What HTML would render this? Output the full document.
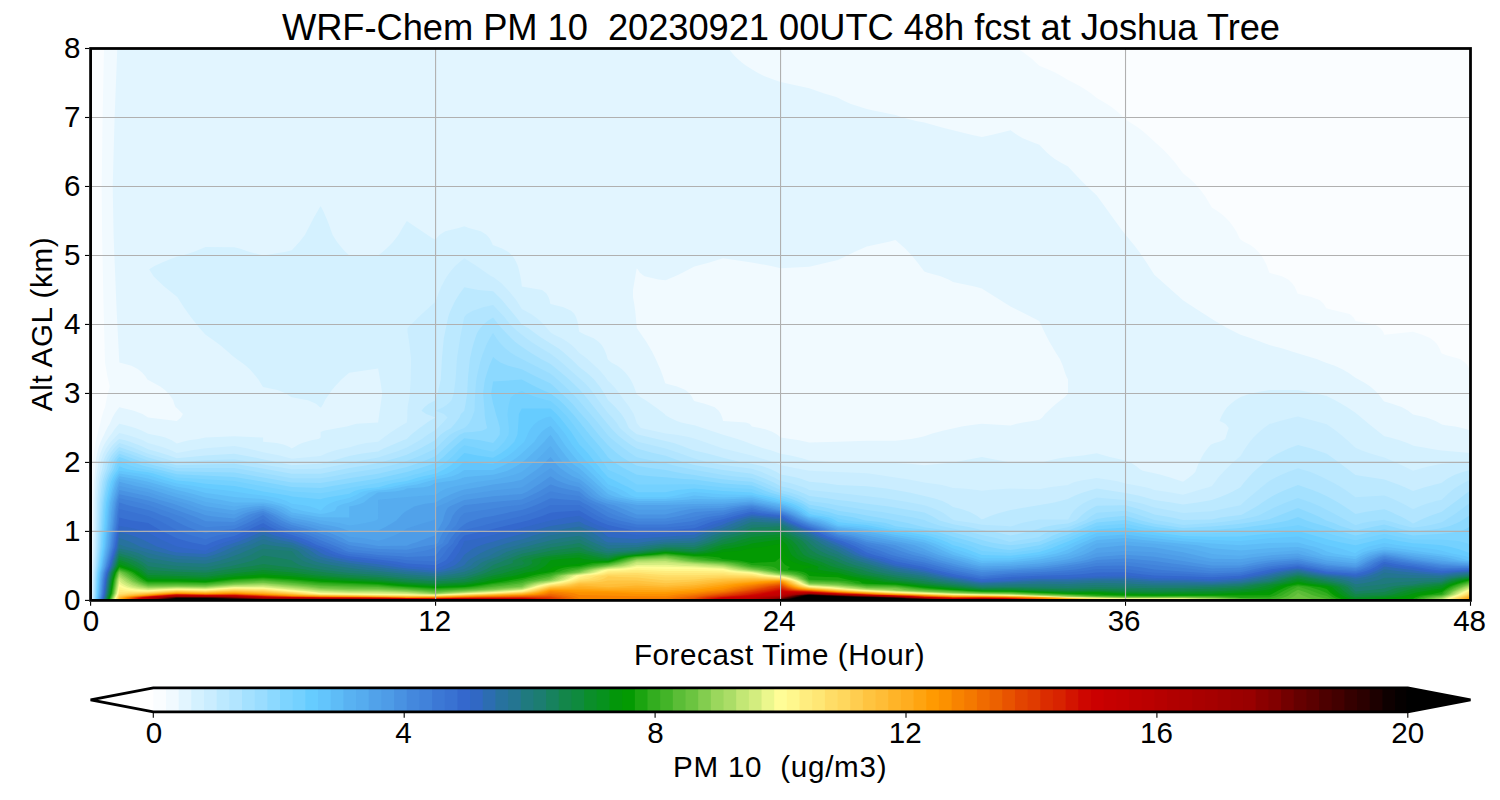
<!DOCTYPE html>
<html><head><meta charset="utf-8"><title>WRF-Chem PM 10</title>
<style>
html,body{margin:0;padding:0;background:#fff;}
body{width:1500px;height:800px;position:relative;overflow:hidden;font-family:"Liberation Sans",sans-serif;color:#000;}
svg{position:absolute;left:0;top:0;}
.t{position:absolute;white-space:nowrap;line-height:1;}
</style></head><body>
<svg width="1500" height="800" viewBox="0 0 1500 800">
<g>
<rect x="90.6" y="48.5" width="1379.9" height="551.9" fill="#fafdff"/>
<path fill="#f1faff" d="M91.1,600.4 1470.5,600.4 1470.5,372.7 1469.4,369.3 1467.7,365.8 1465,362.4 1460,358.9 1447.2,355.5 1441.8,353.5 1440.9,352 1439.5,348.6 1437.6,345.1 1434.9,341.7 1430.5,338.2 1422.4,334.8 1413,331.8 1384.3,334.8 1382.8,331.3 1380.3,327.9 1374.9,324.5 1355.5,321 1353.6,317.6 1349.6,314.1 1326.8,308.6 1325.7,307.2 1323.6,303.8 1319.9,300.3 1311.4,296.9 1298,293.8 1297.6,293.4 1296.2,290 1294.5,286.5 1292,283.1 1288.2,279.6 1281.9,276.2 1269.3,272.7 1266.9,265.8 1265.3,262.4 1263.5,258.9 1261.3,255.5 1258.5,252 1255,248.6 1250.3,245.1 1243.9,241.7 1240.5,239.5 1239.6,238.2 1236.2,231.3 1234.1,227.9 1231.7,224.4 1228.9,221 1225.5,217.5 1221.5,214.1 1216.6,210.6 1211.8,207.6 1205.5,196.8 1200.5,189.9 1197.6,186.5 1194.4,183 1190.7,179.6 1183,173.2 1174.8,162.3 1168.9,155.4 1165.6,152 1162.1,148.5 1154.3,141.6 1147,134.7 1142.9,131.3 1138.4,127.8 1133.4,124.4 1125.5,119.4 1120,114 1116,110.6 1111.5,107.1 1106.5,103.7 1096.8,98 1090.9,93.3 1086.1,89.9 1080.5,86.4 1074,83 1068,80.1 1061.4,76.1 1055.1,72.6 1047.8,69.2 1039.3,65.7 1031.8,58.8 1027.5,55.4 1022.9,51.9 1017.7,48.5 104,48.5 102.6,117.5 101.7,186.5 102.1,234.8 103.5,303.8 105,362.4 107.4,376.2 109.8,386.5 107,396.9 105,407.2 103.6,410.7 101.6,417.6 100.2,423.8 98.9,427.9 95.7,441.7 94.5,448.6 93.4,458.3 92.3,481.7 92,498.3 91.1,600.4Z"/>
<path fill="#e2f5ff" d="M91.6,600.4 1470.5,600.4 1470.5,430.8 1466.6,429.3 1461.9,427.9 1455.3,426.6 1445.2,425.2 1441.8,424.5 1435.7,421 1426.4,417.6 1413,414.4 1412.3,414.1 1408.2,410.7 1402.1,407.2 1392.1,403.8 1384.3,401.5 1383.1,400.3 1380.7,396.9 1377.8,393.4 1374.3,390 1370.2,386.5 1365,383.1 1355.5,377.8 1348.4,372.7 1342.4,369.3 1334.7,365.8 1325.3,362.4 1316.6,358.9 1293.4,352 1282.7,348.6 1269.3,345.1 1260.6,341.7 1251.1,338.2 1240.5,334.8 1227.1,327.9 1215.1,321 1204.1,314.1 1188.2,303.8 1183,300.3 1154.3,274.7 1146.5,262.4 1139.3,252 1134,245.1 1125.5,234.8 1120.3,227.9 1096.8,195.6 1087.2,186.5 1080.2,179.6 1068,166.6 1060.2,162.3 1054.8,158.9 1050.3,155.4 1046.3,152 1039.3,144.7 1030.7,141.6 1022.8,138.2 1016.8,134.7 1010.5,130.3 992.4,134.7 981.8,137.1 971.1,134.7 943,127.8 924.3,122.6 916.1,120.9 902.5,117.5 895.5,115.1 873.3,110.6 866.8,108.9 850.2,103.7 842.7,100.2 838,97.8 835.3,96.8 823.5,93.3 809.3,88.2 780.6,81.9 773.3,79.5 764,76.1 757.1,72.6 746.2,65.7 741.5,62.3 737.6,58.8 734.2,55.4 731.3,51.9 728.8,48.5 117.3,48.5 114.6,117.5 112.7,186.5 113.6,234.8 114.1,248.6 116.5,307.2 119.3,362.4 131.5,365.8 138.1,369.3 142.3,372.7 145.3,376.2 147.4,379.6 160.2,386.5 164.9,390 168.4,393.4 171.1,396.9 173.2,400.3 174.1,403.8 175.7,407.2 176.8,407.9 182.9,414.1 181,417.6 176.8,421 148.1,417.6 142.5,414.1 134,410.7 119.3,407.2 116.6,410.7 114.4,414.1 112.5,417.6 109.8,423.8 108,426.6 106.6,429.3 100.7,441.7 99.1,445.9 96.9,454.1 95.7,461 95.2,469.3 94,481.7 93.3,499.7 92.6,546.6 91.9,572.8 91.6,600.4ZM809.3,442.4 799.1,440.3 790.7,439 780.6,437.6 777.4,434.8 775.3,433.5 772.7,432.1 769.5,430.7 765.4,429.3 759.8,427.9 751.8,426.6 751,425.2 749.5,423.8 745.8,422.4 723.1,421 722.2,417.6 720.8,414.1 718.7,410.7 714.8,407.2 704.7,403.8 694.3,401 693.6,400.3 692,396.9 689.6,393.4 685.5,390 677.1,386.5 665.6,383.6 665.1,383.1 662.9,376.2 660.3,369.3 655.7,358.9 652.3,352 646.3,341.7 636.8,327.9 635.2,310.7 634.2,303.8 633,296.9 633,290 636.5,269.3 636.8,268.6 637.7,269.3 639.9,272.7 644.5,276.2 658.4,279.6 665.6,280.2 675.1,276.2 682.5,272.7 694.3,266.6 709.4,262.4 723.1,258.3 751.8,262.4 770.1,265.8 780.6,268.2 809.3,266.8 827.3,262.4 838,260 854.3,252 866.8,246.4 888.9,241.7 895.5,240 905.1,248.6 911.8,255.5 917.5,262.4 924.3,271.5 927.8,272.7 940.6,276.2 948.6,279.6 953,282 974.4,286.5 981.8,288.5 1010.5,306.5 1039.3,321 1044,331.3 1049.4,341.7 1055.4,352 1059.9,358.9 1062.8,365.8 1065,372.7 1066.4,376.2 1068,379.6 1068,393.4 1064.8,396.9 1056.2,403.8 1052.2,407.2 1045,414.1 1042.4,417.6 1039.3,419.8 1032.5,421 1023,422.4 1016.7,423.8 1010.5,425.6 1006.2,425.2 981.8,423.8 969.9,425.2 961.7,426.6 942.7,430.7 932.2,433.5 924.3,436.2 918.9,437.6 911.2,439 895.5,440.8 866.8,440.8 838,441.7 809.3,442.4Z"/>
<path fill="#d4f1ff" d="M92,600.4 1470.5,600.4 1470.5,452.9 1441.8,450.5 1438,450 1415,445.9 1413,445.5 1407.4,443.1 1399.6,440.3 1390,437.6 1384.3,436.2 1370.5,425.2 1355.5,412.8 1352.5,410.7 1347.2,407.2 1341.4,403.8 1335.1,400.3 1326.8,396.1 1315.5,393.4 1298,390 1269.3,390 1250.7,393.4 1240.5,396.9 1235.3,400.3 1230.9,403.8 1227.1,407.2 1224.6,410.7 1222.6,414.1 1220.9,417.6 1219.5,421 1222.9,422.4 1225.1,423.8 1226.6,425.2 1228.7,427.9 1225.2,439 1222.7,440.3 1219.3,441.7 1214.7,443.1 1211.1,444.5 1208.5,447.2 1206.3,450 1204.3,452.8 1201.8,456.9 1198.4,463.8 1195.3,472.1 1192.5,474.8 1189.1,477.6 1183,481.7 1170.2,477.6 1160.7,474.8 1155.6,473.5 1148.5,472.1 1142.8,470.7 1139.9,469.3 1136.7,466.6 1132.6,463.8 1130.1,462.4 1125.5,460.4 1109.7,456.9 1096.8,453.2 1092,454.1 1083,455.5 1068,456.9 1059.4,458.3 1052.3,459.7 1039.3,462.9 1010.5,462.4 981.8,456.9 953,462.4 924.3,465.2 909.9,463.8 895.5,463 866.8,462.4 838,462.4 819.1,461 809.3,460.5 802.1,458.3 796.9,456.9 790.6,455.5 780.6,453.7 774.4,451.4 769.9,450 764.4,448.6 760.4,447.2 751.8,444.2 745.5,441.7 737.5,439 723.1,434.8 694.3,425.2 686.8,423.8 681.2,422.4 676.9,421 669.5,417.6 665.6,415.2 664.7,414.1 655.7,407.2 645.7,400.3 640.3,396.9 636.8,394.2 633.9,386.5 632.4,383.1 630.5,379.6 628.3,376.2 625.5,372.7 622,369.3 617.4,365.8 611.3,362.4 608.1,359.8 607.6,358.9 606.7,355.5 605.4,352 603.8,348.6 601.7,345.1 598.6,341.7 593.7,338.2 585.1,334.8 579.3,331.7 579.1,331.3 578.1,324.5 577.3,321 576.2,317.6 574.4,314.1 571.1,310.7 563.5,307.2 550.6,304 550.3,303.8 549.6,300.3 548.5,296.9 546.5,293.4 542,290 521.8,286.5 521,279.6 520.3,276.2 518.8,269.3 517.8,265.8 516.4,262.4 514.6,258.9 512.1,255.5 508.4,252 502.1,248.6 492.8,245.1 491.4,241.7 489.5,238.2 486.4,234.8 480.9,231.3 468.8,227.9 464.3,226.2 458.7,227.9 445.2,231.3 439.7,234.8 435.6,239.6 432.4,238.2 406.8,221 402.4,227.9 398.6,234.8 393.2,241.7 390.1,245.1 386.5,248.6 382.6,252 378.1,255.5 349.3,255.5 345.6,252 342.4,248.6 339.5,245.1 336.9,241.7 332.5,234.8 328.9,224.4 326.1,217.5 323,210.6 321.3,207.2 320.6,206.2 319.8,207.2 313.9,217.5 305,234.8 299.6,241.7 291.8,250.3 284.6,252 263.1,255.5 249.8,252 239.5,248.6 234.3,247.3 205.6,247 193.5,252 182.5,255.5 176.8,256.7 170.7,258.9 162.1,262.4 155,265.8 149.2,269.3 153.5,276.2 156.8,279.6 164.2,286.5 177.3,296.9 183.8,307.2 191.2,317.6 199.5,327.9 205.6,334.8 210.7,338.2 220,345.1 224.2,348.6 232.1,355.5 236.6,358.9 241.6,362.4 245.9,365.8 249.7,369.3 252.9,372.7 255.8,376.2 258.4,379.6 262.7,386.5 263.1,386.9 277.4,390 286.2,393.4 291.1,396.9 291.8,397.2 307.9,400.3 316,403.8 320,407.2 320.6,407.5 321.2,407.2 323.4,403.8 324.9,400.3 327.1,396.9 332,390 334.9,386.5 341.4,379.6 345.1,376.2 349.3,372.7 378.1,368.4 380.1,379.6 382.2,393.4 378.1,422.4 356.4,423.8 349.3,425.7 346.9,426.6 338.1,427.9 323.6,430.7 320.6,432.1 320.6,437.6 318.5,439 311.6,440.3 306.3,441.7 302.2,443.1 298.8,444.5 296.1,445.9 291.8,448.6 290,447.2 287.4,445.9 283.4,444.5 276.7,443.1 263.1,441.7 263.1,437.6 234.3,436.2 205.6,437.6 198.5,439 189,440.3 182.8,441.7 176.8,443.5 171.8,440.3 168.9,439 165.3,437.6 160.7,436.2 148.1,433.7 142.2,430.7 135.2,427.9 125.6,425.2 119.3,423.8 116.8,426.6 114.6,429.3 111.8,433.5 109.6,436.2 105.8,441.7 104.2,444.5 102.8,447.2 100.6,452.8 98.5,459.7 97.5,469.3 96.5,474.8 95.7,481.7 94.6,499.7 93.6,546.6 92.6,572.8 92,600.4Z"/>
<path fill="#caedff" d="M92.5,600.4 1470.5,600.4 1470.5,461.4 1455.2,462.4 1441.8,463.8 1428.3,466.6 1422.6,467.9 1413,470.7 1398.8,463.8 1386,458.3 1384.3,457.6 1376.8,455.5 1368.1,452.8 1360.6,450 1355.5,447.8 1347.4,440.3 1340.9,434.8 1333.9,429.3 1326.8,424.2 1298,416.6 1293.5,417.6 1279.8,421 1269.3,424.1 1267.7,425.2 1263.9,427.9 1260.5,430.7 1257.5,433.5 1253.4,437.6 1249.9,441.7 1246.8,445.9 1244.1,450 1240.5,456 1231.4,463.8 1224.4,470.7 1218.3,477.6 1212,485.9 1208.5,487.3 1204,488.6 1183,494.7 1172.6,492.8 1154.3,490 1150.4,488.6 1145.5,487.3 1139.2,485.9 1125.5,483.5 1119.5,481.7 1113.3,480.4 1096.8,478 1081.3,480.4 1075.7,481.7 1071.9,483.1 1068,485 1049.2,487.3 1039.3,489.2 1010.5,488.6 988.7,490 981.8,490.7 977.2,490 963.6,488.6 953,487.9 946,485.9 939.4,484.5 924.3,482.4 914.2,480.4 905.8,479 895.5,477.6 869.2,473.5 866.8,473.2 838,472.1 809.3,470.7 780.6,465.2 777.5,463.8 769.7,461 756.7,456.9 751.8,455.5 723.1,448.6 699.5,440.3 690.8,437.6 684.7,436.2 676.3,434.8 665.6,433.6 640.9,427.9 636.8,423.3 635,417.6 633.7,414.1 629.5,407.2 627,403.8 624.2,400.3 616.7,390 613.8,386.5 610.4,383.1 608.1,381 604.7,376.2 601.8,372.7 598.6,369.3 587.4,358.9 582.9,355.5 579.3,353.1 575.3,348.6 571.7,345.1 567.3,341.7 561.6,338.2 554.2,334.8 550.6,332.6 549.4,331.3 546.9,327.9 543.6,324.5 540.2,321 536,317.6 531,314.1 521.8,308.9 516.3,300.3 513.8,296.9 507.9,290 501.2,283.1 493.1,276.9 491.2,276.2 476.2,265.8 464.3,258.2 459.1,262.4 455.4,265.8 452.3,269.3 449.5,272.7 447.1,276.2 445,279.6 441.4,286.5 438.4,293.4 435.6,301.8 433.2,303.8 421.9,314.1 407.5,327.9 407.5,331.3 409.5,345.1 411.1,358.9 410.7,379.6 409.8,393.4 408.9,400.3 408.1,403.8 407.7,407.2 407.4,410.7 407.3,417.6 406.8,422.4 399.9,426.6 391.3,432.1 385.4,436.2 378.1,441.7 366.4,443.1 359,444.5 353.9,445.9 350.1,447.2 336.6,450 331.6,451.4 327.7,452.8 320.6,455.9 291.8,458.8 279.6,455.5 263.1,452.3 254.1,450 247.9,448.6 234.3,446.1 205.6,448.2 193.6,450 176.8,453 170.4,450 162.9,447.2 153.7,444.5 148.1,443.1 145.7,441.7 142.9,440.3 135.5,437.6 126.5,434.8 119.3,433 116,436.2 110.9,441.7 108.7,444.5 106,448.6 103.2,454.1 101.2,459.7 99.8,469.3 98.8,473.5 97.8,479 96.9,487.3 95.8,502.4 94.7,546.6 93.2,572.8 92.5,600.4Z"/>
<path fill="#bce9ff" d="M93,600.4 1470.5,600.4 1470.5,470.1 1462.6,472.1 1454.8,474.8 1451.8,476.2 1446.8,479 1441.8,482.7 1424.9,487.3 1413,491 1404.9,487.3 1398.2,484.5 1384.3,479.6 1355.5,475.1 1340.6,463.8 1326.8,453.8 1320.1,451.4 1311.3,448.6 1298,445.1 1288.4,448.6 1282.1,451.4 1276.8,454.1 1269.3,458.8 1261.1,465.2 1253.5,472.1 1247.1,479 1243.6,483.1 1240.5,487.3 1232.8,491.4 1226.9,494.2 1220.2,496.9 1211.8,500 1197.5,502.4 1183,504.5 1171.5,502.4 1154.3,500 1143.9,496.9 1138.1,495.5 1125.5,493.1 1096.8,488.6 1091.3,490 1082.2,492.8 1075.1,495.5 1069.3,498.3 1068,499.1 1054.1,502.4 1047.2,503.8 1010.5,510 997.5,513.5 989.6,516.2 983.2,519 981.8,519.2 981.1,519 977.6,516.2 975.5,514.9 970,512.1 966.4,510.7 962,509.3 953,507.1 948,503.8 945.4,502.4 942.3,501.1 938.5,499.7 933.8,498.3 910.6,492.8 903.7,491.4 886.5,488.6 866.8,486.2 838,485 824.1,483.1 809.3,481.7 801.6,479 796.6,477.6 790.5,476.2 780.6,474.4 776.7,472.1 771,469.3 763.4,466.6 758.4,465.2 751.8,463.7 742.2,462.4 723.1,457.8 709.5,454.1 694.3,450.6 688.6,448.6 682.3,445.9 673.8,443.1 636.8,434.2 632.2,430.7 628.9,427.9 625.7,421 623.7,417.6 621.3,414.1 615.5,407.2 612,403.8 608.1,400.3 604.3,393.4 599.7,386.5 594.1,379.6 590.7,376.2 586.8,372.7 579.3,367 571.1,358.9 563.1,352 558.7,348.6 542.2,338.2 537.2,334.8 528.1,327.9 521.8,324.4 516.5,317.6 502.2,300.3 499,296.9 493.1,291.3 478.3,290 464.3,287.2 459.8,293.4 455.5,300.3 453.7,303.8 450.5,310.7 449.1,314.1 448.1,317.6 443.8,338.2 441.9,358.9 440.8,379.6 438.4,390 435.6,400.3 428.7,403.8 424.4,407.2 421.5,410.7 426.2,414.1 435.6,417.6 429.3,421 419.6,427.9 412.5,433.5 409.5,436.2 406.8,439 403.1,440.3 393.2,444.5 383.8,448.6 378.1,451.4 367.8,452.8 359.4,454.1 349.3,456.1 335.6,459.7 320.6,463.8 291.8,465.2 279.6,462.4 265.1,459.7 252.1,456.9 234.3,453.7 205.6,455.5 176.8,458.3 169.1,455.5 156.2,451.4 148.1,449.2 141.1,445.9 129.9,441.7 125.2,440.3 119.3,439 117.6,440.3 113.2,444.5 110.9,447.2 107.2,452.8 105,456.9 103.8,459.7 102.1,469.3 100.5,474.8 99.1,481.7 98,491.4 97.1,502.4 95.7,546.6 93.9,572.8 93,600.4Z"/>
<path fill="#b2e5ff" d="M93.5,600.4 1470.5,600.4 1470.5,479.7 1466,481.7 1460.9,484.5 1454.3,488.6 1450.7,491.4 1447.5,494.2 1441.8,499.7 1436,501.1 1426.5,503.8 1419,506.6 1413,509.3 1406,505.2 1400.6,502.4 1391.4,498.3 1384.3,495.5 1355.5,497.2 1347.7,491.4 1341.2,487.3 1333.8,483.1 1320.4,476.2 1314.1,473.5 1310.5,472.1 1298,468.2 1287.8,472.1 1281.4,474.8 1275.6,477.6 1269.3,481 1264.7,484.5 1245,501.1 1240.5,505.2 1226.8,508 1211.8,511.3 1183,513.1 1172,510.7 1154.3,507.6 1147.3,505.2 1142.6,503.8 1137.2,502.4 1125.5,500 1104,498.3 1096.8,497.6 1090.9,499.7 1087.7,501.1 1082.6,503.8 1078.6,506.6 1075.3,509.3 1072.8,512.1 1070.8,514.9 1068.5,519 1068,519.5 1039.3,519.5 1027.6,521.8 1021.7,523.1 1010.5,526.4 1006.4,525.9 981.8,524.8 973,523.1 955.5,520.4 953,519.7 951.8,519 946.3,514.9 941.7,512.1 939,510.7 932.5,508 924.3,505.2 910.2,502.4 895.5,500 884.4,498.3 850.1,494.2 838,493.1 823.8,491.4 809.3,490 806.6,488.6 803.3,487.3 794.9,484.5 789.9,483.1 780.6,481 774.2,477.6 761.8,472.1 758.2,470.7 751.8,468.7 723.1,464.9 708.7,462.4 694.3,458.5 678.3,452.8 665.6,448.6 636.8,441.4 631.2,437.6 627.6,434.8 624.3,432.1 619.9,427.9 617.3,423.8 615.2,421 612.3,417.6 608.1,413.3 598.3,400.3 593.7,393.4 591,390 588.1,386.5 584.7,383.1 561.7,362.4 557.4,358.9 550.6,353.8 541.7,348.6 531.1,341.7 526.3,338.2 517.5,331.3 510.1,324.5 504.8,317.6 498.5,310.7 493.1,305 483,307.2 472.9,310.7 466.9,314.1 464.3,316.9 464.1,317.6 460.1,338.2 456.9,358.9 455.6,379.6 453.7,393.4 451.6,400.3 448.1,403.8 443.2,407.2 435.6,410.7 444,414.1 447.6,417.6 441.9,423.8 435.6,429.9 427.6,434.8 422,439 407.4,447.2 396.9,451.4 389,454.1 378.1,457.6 365.8,459.7 345.7,463.8 320.6,468.7 291.8,469.3 267.2,465.2 252.6,462.4 234.3,459.3 205.6,460.3 176.8,462.4 168.6,459.7 148.1,453.8 132.3,447.2 124.2,444.5 119.3,443.1 114.9,447.2 110.5,452.8 108.7,455.5 106.4,459.7 104.4,469.3 102.5,474.8 100.7,481.7 99.5,491.4 98.4,502.4 96.7,546.6 95.3,565.9 94.6,572.8 93.9,593.5 93.5,600.4Z"/>
<path fill="#a4e1ff" d="M94,600.4 1470.5,600.4 1470.5,490.4 1465,494.2 1458,499.7 1441.8,511.7 1429,516.2 1422.5,519 1414.2,523.1 1413,523.4 1412.2,523.1 1410.3,521.8 1402.8,517.6 1397.3,514.9 1391.2,512.1 1384.3,509.3 1373.1,510.7 1364.8,512.1 1355.5,514 1350.9,510.7 1342.6,505.2 1335.7,501.1 1326.8,496.2 1319.3,492.8 1312.5,490 1298,485.1 1285.2,490 1279,492.8 1273.6,495.5 1269.3,497.9 1262.3,502.4 1258.5,505.2 1253.9,508 1241.2,514.9 1240.5,515 1230,516.2 1220.6,517.6 1211.8,519.4 1183,519.9 1172,517.6 1154.3,514.4 1148,512.1 1139.9,509.3 1125.5,505.2 1096.8,505.8 1092.2,508 1087.4,510.7 1081.9,514.9 1077.9,519 1075.9,520.4 1068,523.6 1058.1,524.5 1049,525.9 1043.3,527.3 1039.3,528.7 1029.3,531.4 1017.3,534.2 1010.5,535.5 998.4,532.8 981.8,529.9 969.9,527.3 953,524.2 948.6,523.1 939.6,520.4 932.3,516.2 924.3,512.5 888.8,506.6 866.8,503.8 858.4,502.4 847.8,501.1 838,500 827.5,498.3 809.3,496.1 805.8,494.2 799.2,491.4 790.7,488.6 780.6,486.2 774.8,483.1 765.8,479 751.8,473.7 723.1,470 694.3,464.9 684.3,462.4 665.6,455.8 652.2,452.8 636.8,448.6 630.2,444.5 624.3,440.3 619.1,436.2 614.7,432.1 610.9,427.9 599.5,414.1 583.1,393.4 579.3,389.3 569.2,379.6 561.3,372.7 550.6,363.9 541,358.9 529.5,352 519.3,345.1 515,341.7 511.2,338.2 501.4,327.9 498.4,324.5 493.1,317.6 487.5,321 483.4,324.5 480.4,327.9 478,331.3 476.4,334.8 474.1,341.7 472.2,348.6 469.9,358.9 468.1,376.2 467.1,393.4 465.6,403.8 464.3,410.7 460.9,414.1 459.5,417.6 455.8,422.4 451.1,427.9 446.1,430.7 442.2,433.5 440.5,434.8 435.6,440 420.1,448.6 406.8,454.8 395.7,458.3 378.1,463.1 366.7,465.2 349.3,467.9 320.6,473.8 291.8,473.8 266.9,469.3 234.3,463.8 176.8,465.2 165.6,462.4 156.3,459.7 148.1,457.5 135.9,452.8 119.3,446.9 117.6,448.6 112.7,454.1 110.7,456.9 109.1,459.7 108.3,462.4 106.7,469.3 104.5,474.8 102.4,481.7 101,491.4 99.7,502.4 97.7,546.6 96,565.9 95.2,572.8 94.8,579.7 94.4,593.5 94,600.4Z"/>
<path fill="#9addff" d="M94.4,600.4 1470.5,600.4 1470.5,502.4 1455.7,513.5 1442.8,521.8 1441.8,522.2 1438.8,523.1 1432.9,524.5 1425.5,525.9 1413,527.7 1399.9,524.5 1391.4,521.8 1385.9,520.4 1384.3,519.8 1369,521.8 1362.4,523.1 1355.5,525.3 1331,512.1 1320.3,506.6 1310.9,502.4 1298,497.9 1286,502.4 1279.5,505.2 1269.3,509.9 1259.7,514.9 1255.8,516.2 1250.5,517.6 1240.5,519.5 1224,521.8 1211.8,523.1 1183,525 1165.9,521.8 1154.3,519.9 1134.6,513.5 1125.5,510.7 1096.8,512.7 1090.9,516.2 1087.3,519 1084.6,520.4 1068,527.2 1059.9,528.7 1054.1,530 1049.7,531.4 1046.3,532.8 1043.5,534.2 1039.3,536.9 1032.8,538.3 1022.1,539.7 1014.6,541.1 1010.5,542 997.1,538.3 981.8,535 967.5,531.4 946.9,527.3 940.8,525.9 931.6,523.1 928,521.8 924.3,520 913.1,517.6 881.7,512.1 866.8,510 854.8,508 838,505.5 829.4,503.8 820.6,502.4 809.3,501.1 805,498.3 799,495.5 795.4,494.2 791,492.8 786.3,491.4 780.6,490 761.8,481.7 751.8,478.1 732.6,476.2 723.1,475 690.8,469.3 678,466.6 672.8,465.2 665.6,462.9 648.1,459.7 636.8,457.2 629.8,452.8 622.3,447.2 615.2,441.7 608.8,436.2 607.5,434.8 596.4,421 575.7,396.9 568.9,390 557.5,379.6 550.6,373.7 534.9,365.8 515.1,355.5 509.8,352 505.5,348.6 502,345.1 499,341.7 496.5,338.2 493.1,333.1 491.8,334.8 489.7,338.2 486.3,345.1 482.2,355.5 480.1,362.4 477.7,372.7 476.4,379.6 476,383.1 475.1,393.4 474.5,410.7 472.1,417.6 469.5,422.4 467.4,425.2 464.3,427.9 457.5,430.7 454.7,432.1 450,434.8 441.1,443.1 435.6,448.6 421,455.5 406.8,461 391.6,465.2 378.1,468.6 349.3,473.1 333.1,476.2 320.6,478.3 291.8,478.3 234.3,467.9 176.8,467.9 159.6,463.8 148.1,460.7 129.9,454.1 119.3,450.6 117.1,452.8 114.7,455.5 111.7,459.7 110.8,462.4 109,469.3 106.5,474.8 104.5,480.4 104.1,481.7 103.1,487.3 101.1,502.4 100.4,512.1 98.7,546.6 96.8,565.9 95.9,572.8 95.4,579.7 95,593.5 94.4,600.4Z"/>
<path fill="#8cd9ff" d="M94.9,600.4 1470.5,600.4 1470.5,514.9 1459.7,521.8 1457,523.1 1449.8,525.9 1445.3,527.3 1441.8,528.1 1438.7,528.7 1428.7,530 1413,531.6 1399.7,528.7 1384.3,524.6 1355.5,530.5 1340.4,525.9 1333.8,523.1 1326.1,520.4 1320.7,517.6 1311.7,513.5 1298,508 1269.3,519.2 1254.3,521.8 1240.5,523.8 1233.9,524.5 1211.8,526.5 1197.2,527.3 1183,527.9 1154.3,523.7 1141.2,520.4 1125.5,515.8 1106.8,517.6 1096.8,519 1068,530.8 1060.3,532.8 1056.2,534.2 1052.8,535.6 1047.5,538.3 1039.3,541.4 1024,543.8 1010.5,545.2 998.1,543.8 991.2,542.5 981.8,540.1 965.7,535.6 942.6,530 934.7,528.7 924.3,527.3 907.6,523.1 887.1,519 866.8,515.5 856.4,513.5 838,510.7 833.4,509.3 827.3,508 820.4,506.6 809.3,504.8 805.7,502.4 797.5,498.3 789.8,495.5 779.6,492.8 775.6,491.4 771.8,490 751.8,481.7 734.6,480.4 720.5,479 701.5,476.2 694.3,475 683.2,473.5 675.1,472.1 665.6,470 650.3,467.9 636.8,465.7 628.2,461 621.8,456.9 616.3,452.8 610.1,447.2 608.1,445.3 599.8,436.2 587.6,421 579.3,412 572.4,403.8 565.5,396.9 550.6,383.6 535.3,376.2 521.8,369.3 508.2,365.8 500.4,362.4 495.3,358.9 493.1,356.9 489.3,365.8 487,372.7 485,379.6 484.4,383.1 483.1,393.4 484.6,410.7 484.6,414.1 485,417.6 486.1,423.8 487.3,427.9 485.5,429.3 482,430.7 472.5,432.1 464.3,432.5 462.3,433.5 459.6,434.8 454.5,439 448.2,444.5 435.6,456.2 427.2,459.7 420,462.4 406.8,466.9 378.1,473.8 349.3,478.3 320.6,483.1 291.8,482.5 263.1,477.6 234.3,472.4 205.6,472.1 176.8,471.3 164.5,467.9 148.1,463.8 143.6,462.4 136.2,459.7 119.3,453.8 115.4,458.3 114.4,459.7 113.8,461 111.3,469.3 108.4,474.8 105.8,481.7 104,491.4 102.4,502.4 101.6,512.1 99.7,546.6 97.6,565.9 96.5,572.8 96,579.7 95.5,593.5 94.9,600.4Z"/>
<path fill="#7dd4ff" d="M95.4,600.4 1470.5,600.4 1470.5,525.7 1468.5,527.3 1466.2,528.7 1463.2,530 1458.6,531.4 1451.3,532.8 1441.8,533.8 1413,535.5 1399.5,532.8 1384.3,529.2 1355.5,535.4 1340.6,531.4 1326.8,526.8 1313.9,523.1 1306.3,520.4 1298,516.9 1292.4,519 1288,520.4 1282.3,521.8 1275.2,523.1 1266.2,524.5 1240.5,528.1 1211.8,529.9 1183,530.5 1154.3,526.7 1143.1,524.5 1125.5,520 1096.8,522.5 1068,534.4 1060.6,536.9 1039.3,545.2 1016,549.3 1010.5,550.1 1002.7,549.3 994.5,548 981.8,545.2 969,541.1 953,536.8 945.2,534.2 940,532.8 933.6,531.4 924.3,529.8 902.7,527.3 895.5,526.3 890.8,524.5 885.7,523.1 877.5,521.8 865.6,520.4 854.2,517.6 846.9,516.2 838,514.9 828.7,512.1 822.7,510.7 809.3,508.2 807.2,506.6 802.9,503.8 800.1,502.4 793.5,499.7 785.7,496.9 770.6,492.8 763.1,490 751.8,485.4 723.1,483.5 694.3,479.6 683.5,479 665.6,477.3 651.2,476.2 636.8,474.8 625.9,469.3 620.8,466.6 614.4,462.4 608.1,457.6 604.7,452.8 600.4,447.2 590.9,436.2 579.9,422.4 572.9,414.1 566.6,407.2 563.2,403.8 559.4,400.3 555.2,396.9 550.6,393.4 542.5,390 535.1,386.5 521.8,379.6 493.1,381.6 491.1,393.4 493.1,403.8 494.2,407.2 495.9,414.1 498.1,421 499.9,427.9 499.7,434.8 496.6,439 493.1,443.1 487.3,441.7 480,440.3 464.3,438.3 455.1,445.9 443.3,456.9 435.6,463 420.6,467.9 406.8,472.1 378.1,478.6 357.7,481.7 320.6,488 291.8,486.9 263.1,481.7 234.3,476.9 176.8,474.2 141.4,465.2 137.1,463.8 133.4,462.4 127.3,459.7 119.3,456.9 117,459.7 115.8,462.4 113.6,469.3 110.4,474.8 108,480.4 107.5,481.7 106.6,485.9 104.7,495.5 103.7,502.4 102.9,512.1 102.3,523.1 100.7,546.6 98.4,565.9 97.2,572.8 96.7,579.7 96.1,593.5 95.4,600.4Z"/>
<path fill="#74d1ff" d="M95.9,600.4 1470.5,600.4 1470.5,545.2 1468.1,543.8 1464.3,542.5 1458,541.1 1441.8,539.5 1413,539.4 1399.3,536.9 1384.3,533.8 1355.5,540.3 1346.4,538.3 1335.5,535.6 1321.3,531.4 1298,525.1 1293.2,525.9 1282.6,527.3 1269.3,528.7 1240.5,532.3 1211.8,533.3 1183,533.2 1154.3,529.5 1141.3,527.3 1125.5,523.8 1096.8,526 1068,538 1048.9,545.2 1042.4,548 1039.3,548.9 1010.5,553.1 994.8,552.1 981.8,550.9 975.3,548 971.7,546.6 963,543.8 953,541 946.8,538.3 942.8,536.9 932.9,534.2 924.3,532.4 917.9,531.4 895.5,528.7 888.6,527.3 877.3,524.5 869,523.1 856.5,521.8 847.7,520.4 838,518.4 836.3,517.6 832.2,516.2 820.7,513.5 809.3,511.1 803,506.6 797.8,503.8 794.4,502.4 780.6,497.7 765.8,494.2 761.6,492.8 751.8,489 723.1,487.6 694.3,484.2 665.6,484.5 636.8,484.5 630.2,480.4 625.2,477.6 619.6,474.8 608.1,469.8 605.2,465.2 598.2,455.5 593.7,450 588.7,444.5 584.1,439 579.3,432.8 571.8,422.4 567.8,417.6 564.7,414.1 557.8,407.2 550.6,401 547,400.3 535.6,396.9 526.6,393.4 521.8,391.1 515.8,393.4 511,396.9 509.9,400.3 509,403.8 508.4,407.2 507.4,414.1 509,427.9 508.6,434.8 504.3,441.7 497.9,448.6 493.1,451.7 484.6,450 473.6,447.2 464.3,445.2 460.2,448.6 451.8,456.9 445.4,462.4 441.4,465.2 435.6,468.6 419.3,473.5 413.7,474.8 406.8,476.9 383.7,481.7 378.1,483.1 353.2,487.3 331,491.4 320.6,493.2 291.8,491.4 275.5,488.6 234.3,481.1 176.8,477.6 163.8,473.5 148.1,469.9 144.4,469.3 138.2,467.9 133.4,466.6 129.4,465.2 126.1,463.8 119.3,460.2 117.8,463.8 115.9,469.3 112.4,474.8 109.2,481.7 107.2,490 105.4,499.7 105,502.4 104.1,512.1 103.5,523.1 101.7,546.6 99.1,565.9 97.9,572.8 97.3,579.7 96.6,593.5 95.9,600.4Z"/>
<path fill="#66ccff" d="M96.3,600.4 1470.5,600.4 1470.5,553.5 1463.4,550.7 1459.1,549.3 1448.4,546.6 1441.8,545.2 1423.8,543.8 1413,543.3 1399,541.1 1384.3,538.3 1355.5,545.2 1341,542.5 1329.1,539.7 1298,530.9 1269.3,533.5 1240.5,536.6 1211.8,536.7 1183,535.9 1157.5,532.8 1147.6,531.4 1139.2,530 1125.5,527.4 1096.8,529.5 1068,541.6 1058.4,545.2 1052.1,548 1039.3,552 1028.8,553.5 1010.5,555.8 981.8,555 967,549.3 958.4,546.6 953,545.2 947.8,542.5 941.1,539.7 932.4,536.9 926.9,535.6 919.8,534.2 911.1,532.8 895.5,530.7 866.8,525 845.6,523.1 838,522 835.6,520.4 832.9,519 828.9,517.6 822.7,516.2 813.8,514.9 809.3,513.8 807.4,512.1 805.5,510.7 798.8,506.6 792.8,503.8 788.8,502.4 774.8,498.3 763.3,495.5 756.5,494.2 751.8,492.4 723.1,491 694.3,488.5 677.1,490 669.1,491.4 665.6,492.3 636.8,492.3 633.4,490 628.5,487.3 622.4,484.5 614.7,480.4 608.1,477.3 602.1,470.7 598.9,466.6 595.2,462.4 588.5,454.1 583.5,448.6 579.3,444.5 571.2,432.1 563.8,422.4 559.8,417.6 556.5,414.1 550.6,408.6 521.8,408.4 518.9,414.1 518,427.9 517.4,434.8 514.3,441.7 507.5,448.6 501.7,452.8 493.1,457.8 477.3,455.5 464.3,452.9 455.9,461 450.8,465.2 444.5,469.3 436.3,473.5 423.4,476.2 418,477.6 406.8,480.9 393.9,483.1 387.8,484.5 382.9,485.9 379,487.3 365.4,488.6 357.6,490 353.3,491.4 349.3,493.7 330,496.9 323.5,498.3 320.6,499.2 291.8,496.4 288.2,495.5 280.6,494.2 263.1,491.4 234.3,486.1 205.6,483.7 192,481.7 176.8,480.4 166.4,477.6 153.3,473.5 148.1,472.3 136.3,470.7 127.7,469.3 123.5,467.9 119.3,466.2 118.2,469.3 114.4,474.8 112.9,477.6 110.9,481.7 108.4,491.4 106.3,502.4 105.3,512.1 104.6,523.1 102.8,546.6 99.9,565.9 98.5,572.8 97.9,579.7 97.2,593.5 96.3,600.4Z"/>
<path fill="#63c5fc" d="M96.8,600.4 1470.5,600.4 1470.5,557.9 1465.7,556.2 1460,554.9 1451.7,553.5 1441.8,550.7 1434.1,549.3 1423.5,548 1413,547 1398.6,545.2 1384.3,542.9 1368.9,546.6 1364.8,548 1358.6,550.7 1356.6,552.1 1355.5,553.3 1343.2,549.3 1332.8,546.6 1326.8,545.2 1313.4,541.1 1298,536.6 1269.3,538.2 1240.5,540.9 1211.8,540.1 1183,538.5 1145.9,534.2 1136.3,532.8 1125.5,531 1096.8,533 1077.6,541.1 1061.8,548 1049.8,552.1 1045,553.5 1039.3,554.7 1010.5,558.2 981.8,558.2 964.3,552.1 953,548.6 939.7,542.5 932,539.7 924.3,537.5 913.8,535.6 895.5,532.8 866.8,527.1 856.2,525.9 838,524.5 830.5,520.4 826.8,519 821.5,517.6 809.3,515.7 807.7,514.9 804.4,512.1 797.3,508 791.5,505.2 787.7,503.8 783.2,502.4 777.1,501.1 767.1,498.3 751.8,495 723.1,494.4 694.3,492 688.7,492.8 681.4,494.2 676.1,495.5 668.3,496.9 665.6,497.2 636.8,497.2 635.4,496.9 631.1,495.5 626.8,492.8 621.8,490 615.6,487.3 608.1,484.5 603.5,479 595.4,470.7 591.7,466.6 587.3,462.4 577.5,451.4 571.9,444.5 565.6,434.8 563.5,432.1 554.6,421 550.6,416.4 545.7,417.6 538.2,421 536.3,422.4 533.3,425.2 530.2,429.3 528.7,432.1 524.3,441.7 517.1,448.6 512.1,452.8 506.2,456.9 499,461 493.1,463.9 473.5,462.4 464.3,461.5 460.2,465.2 456.8,467.9 452.6,470.7 447.6,473.5 443.6,474.8 425.6,479 415.2,481.7 395.4,485.9 390.3,487.3 381.9,488.6 370.3,490 363.1,491.4 359.7,492.8 357.5,494.2 354.9,495.5 349.3,498.1 341.4,499.7 336.3,501.1 329.2,503.8 326.7,505.2 324.9,506.6 320.6,510.7 318.1,509.3 314.7,508 310.1,506.6 303.2,505.2 291.8,503.8 289.4,502.4 286.5,501.1 282.9,499.7 278.1,498.3 271.9,496.9 263.1,495.5 251.6,494.2 242.2,492.8 234.3,491.4 223,490 205.6,488.2 194.1,485.9 176.8,483.4 160.7,479 148.1,475.1 138.5,473.5 119.3,470.7 115.5,476.2 112.6,481.7 109.9,491.4 107.6,502.4 106.5,512.1 105.8,523.1 103.8,546.6 100.7,565.9 99.2,572.8 98.5,579.7 97.7,593.5 96.8,600.4Z"/>
<path fill="#5ebcf7" d="M97.3,600.4 1470.5,600.4 1470.5,560.5 1469.1,560.4 1463.2,559 1458.7,557.6 1452.8,556.2 1444.7,554.9 1433.8,553.5 1405,549.3 1384.3,546.8 1367.9,550.7 1363.6,552.1 1358.1,554.9 1355.5,556.4 1342.8,554.9 1334.1,553.5 1326.8,551.4 1322.1,549.3 1318.3,548 1313.5,546.6 1307.6,545.2 1298,542.4 1269.3,542.9 1240.5,545.2 1211.8,543.5 1200.3,542.5 1183,541.2 1143.5,536.9 1125.5,534.5 1096.8,536.5 1076.2,545.2 1071.2,548 1068,549.4 1064.7,550.7 1056.5,553.5 1039.3,557 1010.5,560.5 981.8,560.7 962.5,554.9 953,551.8 947.3,549.3 938.7,545.2 935.4,543.8 931.7,542.5 924.3,540.1 908.4,536.9 895.5,534.9 866.8,529.2 852.6,527.3 838,525.9 834.3,524.5 828.7,521.8 825.3,520.4 820.6,519 814,517.6 809.3,516.9 805.1,514.9 801.3,512.1 798.8,510.7 793.4,508 786.9,505.2 780.6,503.2 770.2,501.1 759.5,498.3 751.8,496.6 723.1,497.4 712.1,496.9 694.3,495.5 686.7,496.9 675.7,498.3 665.6,499.1 636.8,499.1 625.7,496.9 621.3,495.5 616.2,492.8 608.1,489.2 602.7,484.5 598.9,480.4 586,467.9 582.9,465.2 579.3,462.4 573.2,455.5 567.6,448.6 564.5,444.5 558.1,434.8 550.6,425.8 546.9,427.9 544.9,429.3 541.6,432.1 538,436.2 534.3,441.7 527.2,448.6 519.4,455.5 513.7,459.7 509.3,462.4 501.3,466.6 494.9,469.3 493.1,469.9 464.3,470 458.9,473.5 456,474.8 452.1,476.2 446.9,477.6 435.6,479.6 426.8,481.7 417,484.5 406.8,486.1 394.4,488.6 385.2,490 378.1,490.6 372.8,491.4 368.4,492.8 366.5,494.2 361.7,496.9 353.3,501.1 349.3,502.4 344,503.8 339.8,505.2 337.1,506.6 335,510.7 331.1,512.1 324.5,513.5 320.6,514 308.9,512.1 301.9,510.7 296.8,509.3 291.8,508.3 289,506.6 285.9,505.2 281.7,503.8 276.3,502.4 271.9,501.1 263.1,499 250.3,498.3 234.3,496.9 215.5,494.2 205.6,492.9 194.6,490 188.1,488.6 176.8,486.7 148.1,478.4 136.6,476.2 119.3,473.5 116.6,477.6 114.3,481.7 111.4,491.4 108.9,502.4 107.8,512.1 107,523.1 104.8,546.6 101.5,565.9 99.9,572.8 99.1,579.7 98.3,593.5 97.3,600.4Z"/>
<path fill="#59b2f2" d="M97.8,600.4 1470.5,600.4 1470.5,561.5 1459.4,560.4 1447.5,557.6 1439.6,556.2 1429.1,554.9 1413,553.1 1397.2,550.7 1384.3,549.6 1377.1,550.7 1370.6,552.1 1363.1,554.9 1360.3,556.2 1355.5,559.3 1343.2,557.6 1326.8,555.7 1323,554.9 1316.4,552.1 1308.3,549.3 1298,546.9 1271.6,548 1240.5,550.6 1211.8,548.2 1197.4,545.2 1140.2,539.7 1125.5,538.1 1096.8,540 1084.5,545.2 1077.1,549.3 1068,553.5 1056.2,556.2 1041.7,559 1030.4,560.4 1010.5,562.3 981.8,563.1 968.4,559 953,554.9 939.9,549.3 931.5,545.2 924.3,542.6 911,539.7 895.5,536.9 859.7,530 850.2,528.7 838,527.3 830.6,524.5 824.2,521.8 820.1,520.4 814.5,519 809.3,518 802.6,514.9 798.3,512.1 795.5,510.7 789.5,508 782.3,505.2 780.6,504.6 763.3,501.1 751.8,498.3 723.1,499.6 694.3,498.9 686.3,499.7 665.6,501.1 636.8,501.1 616,496.9 611.5,495.5 608.1,493.9 597.3,484.5 593,480.4 588.1,476.2 579.3,468.2 574.7,465.2 571.1,462.4 565.4,455.5 560.1,448.6 557.1,444.5 550.6,434.8 547.9,437.6 544.3,441.7 537.6,448.6 530.2,455.5 523.9,461 520.3,463.8 515.9,466.6 510.7,469.3 507.5,470.7 503.5,472.1 493.1,474.8 473.9,476.2 464.3,477.3 459.6,479 453.6,480.4 435.6,482.9 434.9,483.1 432.9,484.5 429.7,485.9 423.6,487.3 406.8,488.6 403.7,490 394.8,491.4 378.1,492.5 377.2,492.8 373.4,495.5 369,498.3 365.7,501.1 363.7,502.4 360.5,503.8 355.5,505.2 349.3,506.6 349.3,519 349.3,517.6 320.6,517.3 307.1,514.9 291.8,512.6 287.3,509.3 284.8,508 281.6,506.6 277.4,505.2 271.5,503.8 263.1,502.4 234.3,502.4 219.7,499.7 205.6,497.6 194.2,494.2 183.2,491.4 176.8,490 148.1,481.7 135,479 119.3,476.2 116.7,480.4 116,481.7 115.5,483.1 112.5,492.8 110.2,502.4 109,512.1 108.2,523.1 105.8,546.6 102.3,565.9 100.5,572.8 99.7,579.7 98.8,593.5 97.8,600.4Z"/>
<path fill="#56acef" d="M98.3,600.4 1470.5,600.4 1470.5,562.5 1461.8,561.8 1449.8,560.4 1441.8,558.6 1435.2,557.6 1413,554.8 1405.3,553.5 1395.2,552.1 1384.3,551 1377.7,552.1 1372.3,553.5 1368,554.9 1362.2,557.6 1355.5,561.4 1326.8,558.2 1312.6,554.9 1304.7,552.1 1298,550.2 1256.9,553.5 1246,554.9 1240.5,555.8 1223.7,554.9 1211.8,554.1 1204.5,552.1 1192.3,549.3 1183,547.6 1168.6,545.2 1154.3,543.8 1125.5,541.6 1096.8,543.5 1092.7,545.2 1088.4,548 1083.5,550.7 1077.2,553.5 1068,556.5 1055.9,559 1039.3,561.4 1010.5,564 981.8,564.8 974.2,563.1 945.9,554.9 935.5,550.7 924.3,545.2 918.9,543.8 906.5,541.1 870.2,534.2 857,531.4 848.4,530 838,528.7 819.6,521.8 814.9,520.4 809.3,519.2 800,514.9 795.2,512.1 785.6,508 780.6,506.1 762.5,502.4 751.8,500 723.1,501.7 694.3,501.4 665.6,503 636.8,503 619.1,499.7 608.1,497.3 604.7,495.5 588.8,481.7 581.7,476.2 579.3,474 573.7,470.7 569.4,467.9 564.4,463.8 562.9,462.4 558.5,456.9 550.6,445.9 543.9,452.8 536.7,459.7 528.7,466.6 521.8,472.1 514.3,474.8 503.9,477.6 493.1,479.7 477.9,481.7 470.4,483.1 464.3,484.5 456.5,485.9 450.9,487.3 446.6,488.6 443.2,490 440.5,491.4 435.6,494.7 406.8,496.9 378.1,499.7 378.1,519 376.1,520.4 371.4,521.8 365.2,523.1 356.6,524.5 349.3,525.4 339.7,523.1 331,521.8 320.6,520.6 306.7,517.6 291.8,515.3 288.4,513.5 281.4,509.3 278.3,508 274.2,506.6 268.8,505.2 263.1,504.1 243.6,505.2 234.3,506.5 205.6,501.9 194,498.3 184.2,495.5 176.8,493.7 164.9,490 148.1,485.2 133.7,481.7 119.3,479 117.7,481.7 115.7,487.3 113.6,494.2 111.5,502.4 110.2,512.1 109.3,523.1 106.8,546.6 103,565.9 101.2,572.8 100.3,579.7 99.4,593.5 98.3,600.4Z"/>
<path fill="#51a2ea" d="M98.7,600.4 1470.5,600.4 1470.5,563.5 1450.1,561.8 1440,560.4 1431.8,559 1413,556.5 1404.3,554.9 1395.4,553.5 1384.3,552.2 1377.9,553.5 1373,554.9 1369.4,556.2 1366.4,557.6 1355.5,563.5 1326.8,560.6 1314.8,557.6 1302.2,554.9 1298,553.5 1269.3,555.4 1251.4,557.6 1240.5,559.2 1211.8,558.7 1205.8,557.6 1183,552.2 1154.3,547.6 1140.9,546.6 1125.5,545.2 1096.8,548.1 1092.6,550.7 1086.4,553.5 1082.7,554.9 1069.5,559 1061.1,560.4 1039.3,563.4 1026.7,564.5 1010.5,565.7 981.8,566.5 972.3,564.5 966.7,563.1 942.9,556.2 938.7,554.9 928,550.7 924.3,548.9 914.7,545.2 902.5,542.5 866.8,535.6 861.2,534.2 854.8,532.8 847,531.4 838,530.2 830.9,527.3 819.3,523.1 815.1,521.8 809.3,520.3 803.2,517.6 792.2,512.1 780.6,507.5 770,505.2 755.4,502.4 751.8,501.6 739.1,502.4 723.1,503.8 694.3,503.9 665.6,505.1 636.8,505.1 608.1,499.5 601.8,496.9 599.5,495.5 589.9,487.3 583.1,481.7 579.3,479 575.5,477.6 572.5,476.2 567.9,473.5 561.8,469.3 560,467.9 555.9,463.8 550.6,456.9 544.9,462.4 538.8,467.9 533.3,472.1 521.8,479.8 513.1,481.7 504.6,483.1 493.1,484.5 478.5,487.3 464.3,489.6 458.2,491.4 451.2,494.2 442.6,498.3 435.6,502.4 425.1,503.8 418.7,505.2 414.3,506.6 406.8,510.7 404.8,512.1 401.4,514.9 396.3,520.4 392.2,523.1 384.9,527.3 378.1,530.4 349.3,531.1 342.8,528.7 338.1,527.3 332.2,525.9 320.6,523.9 312.5,521.8 306.3,520.4 291.8,517.7 275.5,509.3 271.8,508 263.1,505.7 253.4,506.6 243.6,508 237.9,509.3 234.3,510.5 205.6,506.3 189.9,501.1 175.3,496.9 157.6,491.4 148.1,488.6 135.3,485.9 119.3,481.7 115.9,491.4 112.8,502.4 111.4,512.1 110.5,523.1 107.8,546.6 103.8,565.9 101.8,572.8 100.9,579.7 99.9,593.5 98.7,600.4Z"/>
<path fill="#4e9ce7" d="M99.2,600.4 1470.5,600.4 1470.5,564.4 1451.2,563.1 1441.8,562.2 1413,558.2 1395.4,554.9 1384.3,553.4 1378,554.9 1370.6,557.6 1365,560.4 1355.5,565.4 1326.8,562.7 1322.2,561.8 1311.3,559 1298,556.2 1269.3,558.1 1251.6,560.4 1240.5,562.5 1211.8,562.1 1193.6,559 1183,556.7 1154.3,552.2 1125.5,550.9 1096.8,553 1088.6,556.2 1084.3,557.6 1079.7,559 1073.7,560.4 1068,561.4 1039.3,565.4 1010.5,567.4 981.8,568.2 973.4,566.6 964.3,564.5 944.3,559 935.5,556.2 924.3,552.1 919.4,550.7 905.1,545.2 895.5,543.1 866.8,537.8 859.1,535.6 853.1,534.2 845.9,532.8 838,531.6 831,528.7 823.5,525.9 815.3,523.1 809.3,521.4 803.6,519 789.2,512.1 780.6,509 763.5,505.2 751.8,503 740.4,503.8 727.5,505.2 723.1,505.9 694.3,506.3 690.8,506.6 676.1,508 665.6,509.8 636.8,509.8 625.8,505.2 608.1,501.7 602.5,499.7 599.3,498.3 596.4,496.9 594.4,495.5 588,490 579.3,483.1 570.5,480.4 564,477.6 561.5,476.2 557.5,473.5 550.6,467.9 536.9,477.6 521.8,487.5 512.4,488.6 493.1,490.4 478.2,492.8 464.3,494.7 458.7,496.9 452.4,499.7 447.1,502.4 437.3,506.6 435.6,508 435.6,519 433,520.4 418.9,524.5 406.8,528.5 404.6,530 400,532.8 394.3,535.6 387.2,538.3 378.1,541.1 372.3,539.7 363.9,538.3 349.3,536.8 344.2,534.2 341,532.8 332.8,530 327.6,528.7 320.6,527.1 311.6,524.5 306.1,523.1 291.8,520.2 286.6,517.6 281.8,514.9 273,510.7 269.6,509.3 263.1,507.4 258.2,508 249.8,509.3 244.2,510.7 239.9,512.1 234.3,514.6 205.6,510.6 197.6,508 186.2,503.8 162.7,496.9 148.1,492.2 130.8,488.6 119.3,485.9 116.5,494.2 114.1,502.4 112.7,512.1 111.7,523.1 108.8,546.6 104.6,565.9 102.5,572.8 101.5,579.7 100.5,593.5 99.2,600.4Z"/>
<path fill="#4992e2" d="M99.7,600.4 1470.5,600.4 1470.5,565.4 1453,564.5 1441.8,563.7 1413,559.6 1394.8,556.2 1384.3,554.6 1378.5,556.2 1371.6,559 1366,561.8 1358.4,565.9 1355.5,566.9 1342.2,565.9 1326.8,564.4 1313.7,561.8 1298,558.2 1268.9,560.4 1259,561.8 1240.5,565.4 1211.8,565.5 1194.9,563.1 1183,561 1154.3,556.7 1125.5,554.7 1096.8,556.9 1089.9,559 1084.6,560.4 1078,561.8 1069.9,563.1 1060.1,564.5 1039.3,567.1 1010.5,568.9 981.8,570 967.7,567.3 961.6,565.9 940.9,560.4 932,557.6 924.3,554.9 918.9,553.5 909.6,550.7 895.5,545.2 866.8,539.9 857.3,536.9 851.7,535.6 838,533 823.9,527.3 807.3,521.8 800.9,519 789.5,513.5 786.1,512.1 780.6,510.2 775.8,509.3 763.9,506.6 751.8,504.2 741.1,505.2 730.6,506.6 723.1,508.1 694.3,508.8 689.5,509.3 681.4,510.7 665.6,514.5 636.8,514.5 614.3,505.2 608.1,503.9 603.4,502.4 596.4,499.7 591.1,496.9 589.2,495.5 584.5,491.4 579.3,487.3 567.8,484.5 563.6,483.1 557.2,480.4 554.7,479 550.6,476.2 538.6,484.5 527.5,491.4 521.8,494.1 493.1,496.2 464.3,499.9 452.3,505.2 449.6,506.6 447.7,508 446.9,509.3 445.5,512.1 444.4,514.9 443,520.4 441,524.5 437.8,530 435.6,535.3 427,538.3 416,542.5 411.2,543.8 406.8,545.7 378.1,546.1 365.3,543.8 349.3,541.9 347.3,541.1 342.6,538.3 339.8,536.9 333.2,534.2 329.1,532.8 320.6,530.4 315.4,528.7 305.9,525.9 291.8,522.6 284.1,519 277.1,514.9 267.6,510.7 263.1,509.1 254.5,510.7 249,512.1 244.6,513.5 241.2,514.9 234.3,518.5 223,517.6 211.5,516.2 205.6,515.3 200.9,513.5 188.3,509.3 173.3,503.8 158.9,499.7 148.1,496.2 119.3,490 117.5,495.5 115.4,502.4 113.9,512.1 112.8,523.1 109.8,546.6 105.4,565.9 103.2,572.8 102.1,579.7 101,593.5 99.7,600.4Z"/>
<path fill="#4488dd" d="M100.2,600.4 1470.5,600.4 1470.5,566.3 1456.5,565.9 1441.8,565.1 1413,561 1384.3,555.9 1379,557.6 1375.5,559 1367.1,563.1 1362.2,565.9 1355.5,568.3 1326.8,566.1 1319.5,564.5 1305.1,561.8 1298,560.1 1269.3,562.4 1249.6,565.9 1240.5,567.8 1211.8,568.4 1168.6,563.1 1154.3,561 1125.5,558.5 1096.8,560 1090.1,561.8 1083.3,563.1 1074.7,564.5 1054.8,567.3 1041.4,568.7 981.8,572 961.6,568 953,565.9 932.6,560.4 924.3,557.6 912.8,554.9 908,553.5 899.7,550.7 892.5,548 884,545.2 866.8,542 860.3,539.7 855.8,538.3 850.5,536.9 838,534.4 824.2,528.7 816.3,525.9 809.3,523.7 804.4,521.8 798.3,519 793,516.2 786.7,513.5 783.1,512.1 780.6,511.3 776.6,510.7 769.2,509.3 757.6,506.6 751.8,505.5 741.6,506.6 733.5,508 723.1,510.4 714.3,510.7 696.1,512.1 694.3,512.3 678,516.2 670.9,517.6 665.6,518.4 636.8,518.4 633.6,517.6 629.4,516.2 608.1,507.4 604.3,505.2 596.4,502.4 593.2,501.1 590.4,499.7 585.8,496.9 579.3,491.4 570.9,490 564.3,488.6 558.8,487.3 550.6,484.5 539,491.4 536.4,492.8 530.7,495.5 521.8,499.4 493.1,502.1 464,505.2 459.8,508 458.2,509.3 455.4,512.1 453.3,514.9 452.4,516.2 450.8,520.4 448.7,524.5 445.4,528.7 442,534.2 440,538.3 438.3,542.5 436.9,543.8 435.6,544.5 430.1,545.2 422.5,546.6 406.8,549.8 378.1,549.1 367.8,548 357.6,546.6 349.3,545.2 339,541.1 333.4,538.3 326.4,535.6 320.6,533.7 314.4,531.4 305.7,528.7 291.8,525.1 287.1,523.1 281.4,520.4 276.6,517.6 272.4,514.9 263.1,511 258,512.1 252.7,513.5 248.5,514.9 243.5,517.6 234.3,522 205.6,521.3 197.2,517.6 190.3,514.9 154.9,502.4 148.1,500.4 119.3,494.2 116.7,502.4 115.6,509.3 115,513.5 114,523.1 110.9,546.6 106.1,565.9 103.8,572.8 102.7,579.7 101.6,593.5 100.2,600.4Z"/>
<path fill="#4182da" d="M100.7,600.4 1470.5,600.4 1470.5,567.2 1441.8,566.6 1409.4,561.8 1384.3,557.3 1379.4,559 1376.3,560.4 1370.7,563.1 1366,565.9 1360.8,568 1355.5,569.7 1326.8,567.8 1311.7,564.5 1298,562 1282.7,563.1 1269.3,564.5 1253.2,567.3 1246.7,568.7 1240.5,570.2 1211.8,571.2 1183,568.1 1166.4,566.6 1136.7,563.1 1125.5,562 1096.8,563.1 1089.7,564.5 1072,567.3 1061.1,568.7 1046.4,570 1039.3,570.6 997.5,572.8 981.8,574 958.1,569.4 953,568.2 924.3,560.4 901.3,554.9 895.5,552.9 886.2,549.3 877.5,546.6 872.5,545.2 866.8,544.1 858.8,541.1 849.4,538.3 838,535.8 830.4,532.8 820.8,528.7 809.3,524.8 804.8,523.1 798.4,520.4 790.5,516.2 783.9,513.5 780.6,512.3 769.4,510.7 762.7,509.3 751.8,506.7 743.2,508 736.5,509.3 723.1,512.6 713.3,513.5 703.2,514.9 690.8,517.6 682.9,519 665.6,521.5 636.8,521.5 621.8,517.6 617.9,516.2 608.1,512.2 596.1,505.2 589.4,502.4 586.7,501.1 582.3,498.3 579.3,495.9 565.4,494.2 557.3,492.8 550.6,491.3 543,495.5 537.4,498.3 531.2,501.1 521.8,504.7 505.9,506.6 464.3,512.9 460.8,516.2 459.9,517.6 456.5,524.5 452.3,528.7 448.9,532.8 445.4,538.3 443.9,541.1 443.4,542.5 442.2,543.8 437.1,546.6 435.6,547.6 434.1,548 430.4,549.3 425.2,550.7 417.7,552.1 406.8,553.4 378.1,552 363.5,550.7 349.3,549.1 344.4,546.6 341.1,545.2 327.7,539.7 313.6,534.2 301,530 291.8,527.6 287.4,525.9 278.5,521.8 273.7,519 267.8,514.9 263.1,512.9 255.8,514.9 245.3,520.4 234.3,525.5 225.2,525.9 205.6,527.3 194.9,523.1 188.9,520.4 183.6,517.6 148.1,504.9 138.5,502.4 119.3,498.3 118,502.4 116.3,512.1 115.2,523.1 111.9,546.6 106.9,565.9 104.5,572.8 103.3,579.7 102.1,593.5 100.7,600.4Z"/>
<path fill="#3c78d5" d="M101.1,600.4 1470.5,600.4 1470.5,568 1441.8,568 1409.3,563.1 1400.8,561.8 1384.3,558.7 1380.1,560.4 1374.3,563.1 1369.8,565.9 1366.7,567.3 1361.3,569.4 1355.5,571.1 1326.8,569.2 1311,565.9 1298,563.5 1285.7,564.5 1268,566.6 1256.3,568.7 1240.5,572.3 1211.8,573.5 1154.3,569.4 1140,567.3 1125.5,565.5 1096.8,566.1 1075.2,569.4 1062.5,570.7 1042.5,572.1 1010.5,573.6 981.8,575.9 953,570.3 924.3,562.6 913.5,560.4 895.5,556.1 891.3,554.9 880.4,550.7 866.8,546.6 864,545.2 853.3,541.1 848.5,539.7 838,537.2 833.6,535.6 817.4,528.7 809.1,525.9 801.8,523.1 795.7,520.4 788,516.2 780.6,513.3 770.7,512.1 762.2,510.7 751.8,508.2 739.2,510.7 733.3,512.1 723.1,514.9 712.9,516.2 705.6,517.6 700,519 694.3,520.8 688.1,521.8 677.7,523.1 665.6,524.5 636.8,524.5 630.4,523.1 619.2,520.4 614.4,519 608.1,516.9 599.3,512.1 587.9,505.2 582.4,502.4 579.3,500.5 566.7,499.7 550.6,498.2 541.8,502.4 535.3,505.2 528.1,508 521.8,510.1 510.5,512.1 493.1,516 483.7,517.6 477.9,519 473.2,520.4 469.4,521.8 466.6,523.1 464.3,524.5 460.7,527.3 456.3,531.4 451.8,536.9 449,541.1 448.5,542.5 447.5,543.8 441.6,548 435.6,555.6 426.9,556.2 406.8,556.9 399.8,556.2 378.1,554.9 366.3,553.5 349.3,552 345.3,550.7 340.1,548 320.6,540.3 316.2,538.3 309.3,535.6 301.3,532.8 291.8,530 287.8,528.7 280.9,525.9 275.3,523.1 270.5,520.4 266.5,517.6 263.1,514.9 250.1,521.8 234.3,529 224.4,530 214.6,531.4 205.6,533.3 195.5,530 188.3,527.3 182.2,524.5 168.6,517.6 161,514.9 154.2,512.1 148.1,509.9 133.1,506.6 128.1,505.2 119.3,502.4 117.6,512.1 116.4,523.1 114.6,534.2 112.9,546.6 107.7,565.9 105.1,572.8 103.9,579.7 102.6,593.5 101.1,600.4Z"/>
<path fill="#3972d2" d="M101.6,600.4 1470.5,600.4 1470.5,568.8 1441.8,569.3 1408.8,564.5 1392.1,561.8 1384.3,560.2 1378,563.1 1373.6,565.9 1369.3,568 1363.9,570 1355.5,572.5 1326.8,570.5 1298,564.9 1281.2,566.6 1269.3,568.1 1258.9,570 1240.5,574 1211.8,575.4 1183,573.8 1154.3,572.7 1142.7,571.4 1125.5,569 1096.8,569 1085.9,570.7 1068,572.6 1052.1,573.5 1010.5,575.3 981.8,577.6 970.2,575.6 953,572.2 941.1,569.4 924.3,564.8 908.9,561.8 895.5,558.7 882.7,554.9 875.1,552.1 866.8,549.5 858.3,545.2 847.8,541.1 838,538.6 829.7,535.6 814,528.7 805.9,525.9 798.8,523.1 792.9,520.4 785.5,516.2 780.6,514.2 772.5,513.5 762.2,512.1 751.8,509.9 735.9,513.5 723.1,517 712.2,519 706.4,520.4 701.8,521.8 694.3,524.7 683.4,525.9 665.6,527.5 636.8,527.5 621.7,524.5 615.9,523.1 608.1,520.9 603.5,519 597.9,516.2 588.4,510.7 579.3,505 550.6,505 544.4,508 537.5,510.7 529.9,513.5 521.8,516 493.1,522.7 481.3,525.9 464.3,530 461.2,532.8 457.3,536.9 454.1,541.1 453.6,542.5 452.8,543.8 448.1,548 445.3,552.1 439.8,559 437.9,560.4 435.6,561.6 406.8,560.2 398,559 378.1,557.2 349.3,554.1 342,552.1 338.2,550.7 332.8,548 324.7,545.2 320.6,543.6 312.3,539.7 305.4,536.9 297.3,534.2 288.2,531.4 280.6,528.7 277.3,527.3 271.8,524.5 267.1,521.8 263.1,518.9 249.3,525.9 234.3,532.5 224.2,534.2 217.6,535.6 212.4,536.9 205.6,539.2 191.8,535.6 187.5,534.2 180.1,531.4 174.1,528.7 161.3,521.8 148.1,515.9 119.3,509.1 118.6,513.5 117.5,523.1 115.7,534.2 113.9,546.6 108.5,565.9 105.8,572.8 104.5,579.7 103.2,593.5 101.6,600.4Z"/>
<path fill="#3468cd" d="M102.1,600.4 1470.5,600.4 1470.5,569.7 1441.8,570.7 1431,569.4 1413,566.5 1407.8,565.9 1398.2,564.5 1384.3,561.9 1381.6,563.1 1376.2,566.6 1370.4,569.4 1366.8,570.7 1362.5,572.1 1355.5,573.8 1326.8,571.8 1318.3,570 1298,566.3 1282.1,568 1269.3,569.7 1240.5,575.7 1211.8,577.3 1183,576.2 1154.3,575.4 1141.7,574.2 1125.5,572.3 1096.8,572.6 1081,574.2 1068,575 1039.3,575.7 1010.5,576.9 981.8,579.3 973.1,577.6 960.4,575.6 953,574.1 933.2,569.4 924.3,567 904,563.1 897.7,561.8 895.5,561.3 884.3,557.6 874.1,554.9 866.8,552.4 855.5,546.6 845.9,542.5 842.2,541.1 837,539.7 829.2,536.9 822.7,534.2 814,530 810.6,528.7 802.7,525.9 795.8,523.1 790.1,520.4 783,516.2 780.6,515.2 762.2,513.5 751.8,511.7 738.4,514.9 723.1,519.2 717.3,520.4 711.9,521.8 694.3,528.2 665.6,530.6 636.8,531 618.1,527.3 608.1,525 599.9,521.8 594,519 589,516.2 579.3,510.4 556.8,512.1 550.6,512.8 541.5,516.2 528,520.4 482.6,531.4 464.3,535.6 459.2,541.1 458,543.8 454.7,548 452.2,552.1 447,559 445.4,560.4 443.1,561.8 440.5,563.1 435.6,565.3 406.8,563.4 397.2,561.8 386.7,560.4 349.3,556.2 343.4,554.9 338.5,553.5 334.4,552.1 331.2,550.7 328.8,549.3 325.6,548 317.5,545.2 308.6,541.1 301.7,538.3 293.7,535.6 284.2,532.8 276.6,530 270.5,527.3 265.6,524.5 263.1,522.9 248.4,530 234.3,536.1 224.1,538.3 219.1,539.7 211.4,542.5 205.6,545.2 191.8,542.5 186.2,541.1 176.8,538.3 162.9,531.4 155.4,527.3 148.1,522.9 131.8,520.4 125,519 119.3,517.6 118.7,523.1 116.8,534.2 114.9,546.6 109.2,565.9 106.5,572.8 105.1,579.7 103.7,593.5 102.1,600.4Z"/>
<path fill="#3168c4" d="M102.6,600.4 1470.5,600.4 1470.5,570.5 1449.7,571.4 1441.8,572 1435.1,571.4 1424.1,570 1413,567.9 1399.8,566.6 1394.8,565.9 1384.3,563.8 1377.7,568 1371.9,570.7 1363.4,573.5 1355.5,575.3 1343.5,574.2 1326.8,573.1 1315.6,570.7 1298,567.6 1282,569.4 1272.9,570.7 1253.5,574.9 1240.5,577.4 1211.8,579.2 1154.3,577.9 1136,576.3 1125.5,575.6 1096.8,576.3 1068,577.4 1039.3,577.4 1010.5,578.7 1000.2,579.7 981.8,581.1 968.6,578.3 953,576 937.6,572.1 924.3,569.1 911.7,566.6 895.5,563.7 881.3,559 866.8,555.2 852.9,548 847,545.2 836.8,541.1 832.6,539.7 825.2,536.9 816,532.8 810.6,530 803,527.3 792.8,523.1 789.9,521.8 784.9,519 780.5,516.2 761.8,514.9 751.8,513.5 735.7,517.6 721.9,521.8 713.4,524.5 694.3,531.4 665.6,533.8 636.8,534.9 630.6,534.2 621.6,532.8 615.4,531.4 608.1,529.2 607.1,528.7 595.8,524.5 592.7,523.1 584.6,519 579.3,515.8 566.2,517.6 550.6,520.5 534.5,524.5 521.8,528 484.9,536.9 471.9,539.7 464.3,541.1 462.7,545.2 459.1,552.1 454.2,559 452.8,560.4 449,563.1 446.6,564.5 443.5,565.9 435.6,568.9 427.5,568 419.3,567.3 406.8,566.6 396.3,564.5 387.9,563.1 378.1,561.8 349.3,558.4 339.2,556.2 334.3,554.9 330.2,553.5 326.9,552.1 321.8,549.3 318.6,548 311.3,545.2 305.2,542.5 298.2,539.7 291.8,537.4 284.3,535.6 275.7,532.8 269,530 263.1,526.9 250.7,532.8 237.6,538.3 234.3,539.6 224,542.5 216.6,545.2 210.7,548 205.6,550.7 193.3,549.3 184,548 176.8,546.6 170.4,543.8 161.5,539.7 153.4,535.6 148.1,532.6 140.2,530 134.7,528.7 128,527.3 119.3,525.9 115.6,548 111.6,560.4 110,565.9 107.1,572.8 105.7,579.7 104.3,593.5 102.6,600.4Z"/>
<path fill="#2c6db1" d="M103.1,600.4 1470.5,600.4 1470.5,571.3 1454.9,572.1 1441.8,573.4 1433.1,572.8 1420.4,571.4 1413,570.2 1389.4,567.3 1384.3,566.4 1380.8,568.7 1378.3,570 1371.7,572.8 1365,574.9 1355.5,576.9 1345.2,575.6 1326.8,574.1 1319.2,572.8 1309.4,570.7 1298,568.7 1286.7,570 1277.7,571.4 1262.2,574.9 1240.5,579.1 1211.8,580.9 1183,580 1154.3,579.7 1125.5,577.4 1096.8,577.7 1068,579 1039.3,578.9 1024.9,579.7 1010.5,581.1 981.8,582 974.7,581.1 964.4,579 947,576.3 924.3,570.8 895.5,565.7 891.1,564.5 878.6,560.4 866.8,557.2 860.5,554.9 850.2,549.3 844.4,546.6 832,541.1 821.2,536.9 806.7,530 799.5,527.3 789.7,523.1 787,521.8 780.6,517.9 751.8,515.3 738,519 733.7,520.4 729.7,521.8 723.1,524.4 710.8,528.7 706,530 702,531.4 694.3,534.7 662,536.9 643.5,538.3 636.8,539 622,538.3 608.1,537 602.8,532.8 598.8,530 596,528.7 584.8,524.5 579.3,521.6 550.6,526 535.2,530 521.8,533.9 499.4,539.7 493.1,541.8 485.3,543.8 477.5,546.6 474.4,548 471.9,549.3 464.3,554.7 460.3,560.4 457.5,563.1 455.8,564.5 453.1,565.9 446,568.7 443.6,569.4 435.6,570.9 406.8,568.5 396.9,567.3 378.1,564.3 349.3,560.7 334.6,557.6 329.1,556.2 325.1,554.9 320.6,552.8 315,549.3 295,541.1 291.8,539.9 284.3,538.3 274.4,535.6 267.1,532.8 263.1,530.9 253,535.6 239.8,541.1 223.9,546.6 215.2,550.7 205.6,553.9 176.8,552.4 169.2,550.7 165.6,549.3 156.7,546.6 143,539.7 136.4,536.9 128,534.2 119.3,532 116.9,546.6 116.6,548 112.4,560.4 110.8,565.9 107.8,572.8 106.3,579.7 104.8,593.5 103.1,600.4Z"/>
<path fill="#27729e" d="M103.5,600.4 1470.5,600.4 1470.5,572 1458.6,572.8 1441.8,574.9 1429.6,574.2 1420.8,573.5 1401,571.4 1384.3,569.3 1381.9,570.7 1377.6,572.8 1370.5,575.6 1365.5,576.9 1355.5,578.7 1349.7,577.6 1339.8,576.3 1325,574.9 1316.6,573.5 1303.2,570.7 1298,569.8 1290.5,570.7 1282.3,572.1 1275.9,573.5 1269.3,575.2 1240.5,580.8 1211.8,582.6 1183,581.5 1154.3,581.3 1125.5,579.2 1096.8,579.2 1068,580.6 1039.3,580.4 1029.7,581.1 1010.5,582.1 981.8,582.9 967.6,581.1 960.6,579.7 943.4,576.9 939.8,576.3 924.3,572.5 913.2,570.7 895.5,567.5 884.1,564.5 871.4,560.4 861.9,557.6 854.9,554.9 842,548 832.5,543.8 827.1,541.1 817.1,536.9 809.3,533 786.7,523.1 780.6,519.6 751.8,517.2 745.1,519 740.9,520.4 737.1,521.8 723.1,527.5 719.6,528.7 714.1,530 705.9,532.8 699.3,535.6 694.3,538 665.6,539.6 651.2,541.1 636.8,542.9 608.1,542.5 604.5,541.1 601.3,538.3 599.4,536.9 590.8,531.4 588.2,530 579.3,526.6 565.1,528.7 550.6,531.4 538.2,534.2 533.4,535.6 525.7,538.3 521.8,539.4 514.3,541.1 504.8,543.8 489.1,549.3 485.6,550.7 479.8,553.5 475.5,556.2 470.3,559 468.4,560.4 467,561.8 464.8,564.5 462.6,565.9 455.6,568.7 453.3,569.4 443.7,571.4 435.6,572.9 406.8,570.5 386.1,568 372,565.9 349.3,563 335.7,560.4 323.4,557.6 320.6,556.8 316.9,554.9 310.9,550.7 308.4,549.3 291.8,542.4 284.1,541.1 277.9,539.7 268.4,536.9 263.1,534.9 246.1,542.5 234.3,546.6 221.5,552.1 213.7,554.9 205.6,557.2 176.8,555.7 165.9,553.5 154.1,550.7 143.7,548 139.7,546.6 134.4,543.8 128,541.1 119.3,538.1 117.9,546.6 117.6,548 113.3,560.4 111.6,565.9 108.4,572.8 106.9,579.7 105.4,593.5 103.5,600.4Z"/>
<path fill="#247591" d="M104,600.4 1470.5,600.4 1470.5,572.8 1456.2,574.2 1441.8,576.3 1420.5,575.6 1410,574.9 1400.2,574.2 1384.3,572.4 1378.8,575.6 1375.5,576.9 1373.3,577.6 1364.2,579.7 1355.5,581.1 1348.2,579 1344.7,578.3 1334.8,576.9 1326.8,576.1 1318.4,574.9 1310.5,573.5 1298,570.9 1286.6,572.8 1258.4,579 1248,581.1 1243.5,581.8 1240.5,582.1 1211.8,583.8 1183,582.9 1154.3,582.9 1133.8,581.8 1125.5,581.1 1096.8,580.7 1068,582.2 1039.3,581.8 1029.3,582.5 981.8,583.8 964.8,581.8 953,579.7 939.4,577.6 932.5,576.3 924.3,574.2 910.6,572.1 895.5,569.4 889.5,568 881.8,565.9 859.6,559 852.4,556.2 849.4,554.9 838,548.7 829.6,545.2 822.2,541.1 815.9,538.3 809.3,534.9 801.2,531.4 786.6,524.5 780.6,521.3 765.8,520.4 751.8,519.1 744.6,521.8 727.6,528.7 717.5,531.4 709.3,534.2 703,536.9 697.4,539.7 694.3,540.6 665.6,541.8 657.6,542.5 636.8,545 608.1,545.2 597.3,541.1 593.2,538.3 590.8,536.9 579.3,530.8 568.6,532.8 550.6,535.3 536.6,539.7 521.5,543.8 517.5,545.2 506.9,548 502.6,549.3 499,550.7 496,552.1 488.6,556.2 480.4,559 477.4,560.4 475,561.8 473.3,563.1 472,564.5 470.2,565.9 464.3,569 457.6,570.7 451.3,572.1 443.9,573.5 435.6,574.6 406.8,572.3 398.5,571.4 378.1,568.9 368.7,568 344,564.5 335.9,563.1 329.2,561.8 320.6,559.7 314.4,557.6 311.6,556.2 307.8,553.5 304.4,550.7 301.7,549.3 291.8,544.9 283.4,543.8 275.2,542.5 269.4,541.1 263.1,539 252.8,543.8 234.3,550.7 228.5,553.5 225.1,554.9 216.6,557.6 205.6,560.4 176.8,559 168.3,557.6 160.9,556.2 148.1,553.1 141.2,550.7 125,546.6 119.3,544.2 118.6,548 114.1,560.4 112.4,565.9 109.1,572.8 107.5,579.7 105.9,593.5 104,600.4Z"/>
<path fill="#1f7a7e" d="M104.5,600.4 1470.5,600.4 1470.5,573.7 1459.9,574.9 1449.5,576.3 1441.8,578 1413,578.1 1384.3,577.7 1379.4,579.7 1371.2,581.8 1363.6,583.2 1355.5,584.2 1351.7,582.5 1348,581.1 1339.7,579 1315.9,575.6 1308,574.2 1298,572.2 1287.1,574.2 1274.8,576.9 1269.3,578.6 1257,581.1 1240.5,583.2 1211.8,584.7 1154.3,584.7 1125.5,583.4 1096.8,582.7 1068,584.1 1039.3,583.8 981.8,585 961.8,582.5 939.1,579 931.4,577.6 924.3,576 907.7,573.5 895.5,571.4 881.5,568 856.9,560.4 849.5,557.6 843.8,554.9 838,551.7 826.3,546.6 821.4,543.8 817.3,541.1 814.6,539.7 806.1,535.6 796.8,531.4 786.5,525.9 780.6,523 751.8,521.8 735,528.7 723.1,532 716.2,534.2 712.6,535.6 703.7,539.7 694.3,542.7 665.6,543.4 649.5,545.2 636.8,547.2 620,548 608.1,548.8 590.1,541.1 585.2,538.3 579.3,535.7 569.5,536.9 560.7,538.3 550.6,540.3 548.1,541.1 536.6,543.8 527,546.6 514.9,549.3 510.3,550.7 506.4,552.1 503.2,553.5 498.6,556.2 495.1,557.6 486.3,560.4 483,561.8 480.8,563.1 477.3,565.9 472.4,568.7 464.3,571.7 452.2,574.2 435.6,576.4 406.8,574.3 378.1,571 361.4,569.4 345,567.3 328.3,564.5 320.6,562.9 316.6,561.8 312.7,560.4 306.2,557.6 304,556.2 298,550.7 291.8,547.9 279.4,546.6 269.8,545.2 263.1,543.9 253.5,548 246.4,550.7 240.3,553.5 229.3,557.6 220.2,560.4 214.8,561.8 205.6,563.8 176.8,562.5 154.8,559 148.1,557.7 142.6,554.9 139.3,553.5 135,552.1 129.9,550.7 119.3,548.5 115,560.4 113.1,565.9 109.8,572.8 108.2,579.7 106.5,593.5 104.5,600.4Z"/>
<path fill="#1c7d71" d="M105,600.4 1470.5,600.4 1470.5,574.7 1457.3,576.3 1453.1,576.9 1445.9,578.3 1441.8,579.8 1425.9,580.4 1395.3,582.5 1384.3,583.9 1375.4,585.2 1355.5,587.4 1354.6,586.6 1352.4,585.2 1349.3,583.8 1342.9,581.8 1337.7,580.4 1331.2,579 1309,575.6 1298,573.4 1281.2,576.9 1275.6,578.3 1269.3,580.4 1266,581.1 1240.5,584.3 1223.1,585.2 1183,586.5 1154.3,586.5 1096.8,584.9 1068,586.1 1039.3,585.7 1010.5,585.7 981.8,586.2 938.5,580.4 930.1,579 924.3,577.8 908.5,575.6 895.5,573.4 889.2,572.1 880.7,570 857.3,563.1 853.3,561.8 846.2,559 838,554.7 834.4,553.5 827.8,550.7 820,546.6 815.9,543.8 812.4,541.1 810.1,539.7 792.5,531.4 785.7,527.3 780.6,524.6 751.8,524.8 742.4,528.7 738.5,530 729.1,532.8 723.1,534.2 719.3,535.6 709.9,539.7 702.2,542.5 694.3,544.9 665.6,545 653.4,546.6 636.8,549.4 617.1,550.7 608.1,551.6 604.2,550.7 588.7,543.8 579.3,539.3 576.6,539.7 550.6,544.1 540.8,546.6 521.8,550.6 516.7,552.1 512.9,553.5 507.1,556.2 503.5,557.6 491.1,561.8 488.3,563.1 484.4,565.9 478.5,569.4 471.3,572.1 464.3,574.4 453,576.3 435.6,578.2 406.8,576.3 378.1,573.1 351.1,570.7 335.3,568.7 320.6,566.2 313.1,564.5 308.7,563.1 305.2,561.8 302.4,560.4 297.9,557.6 296.3,556.2 291.8,551.1 288.4,550.7 268.2,549.3 263.1,548.8 258.4,550.7 250.6,554.9 243.8,557.6 239.7,559 225.3,563.1 212.7,565.9 205.6,567.2 176.8,566 165,564.5 148.1,561.9 143.4,559 140.5,557.6 133.8,554.9 129.7,553.5 119.3,550.9 113.9,565.9 110.4,572.8 108.8,579.7 107,593.5 105,600.4Z"/>
<path fill="#17825e" d="M105.5,600.4 1470.5,600.4 1470.5,575.6 1465.1,576.3 1451,578.3 1445.7,579.7 1441.8,581.4 1425.6,582.5 1419.6,583.2 1413,584.4 1401.4,585.2 1395.1,585.9 1387.8,587.3 1384.3,588.5 1364.9,590.7 1355.5,591.4 1354.6,590.7 1351.6,587.3 1350.6,586.6 1347.7,585.2 1343.8,583.8 1333.1,581.1 1323.2,579 1310.1,576.9 1298,574.8 1281.3,578.3 1272.7,581.1 1269.3,581.8 1247,584.5 1240.5,585.7 1211.8,587.1 1183,588.1 1154.3,588.2 1096.8,587.2 1068,588 1010.5,586.9 981.8,587.3 937.5,581.8 924.3,579.6 909.3,577.6 895.5,575.5 885.3,573.5 876.7,571.4 862.9,567.3 857.4,565.9 852.9,564.5 845.4,561.8 842.2,560.4 838,558.2 833.3,556.2 829,554.9 822.5,552.1 820,550.7 815.6,548 810.3,543.8 807.5,541.1 805.3,539.7 788.1,531.4 780.6,526.3 758.9,527.3 751.8,527.8 746.5,530 738.5,532.8 723.1,536.7 709.2,542.5 694.3,547.1 665.6,546.7 656.5,548 648.3,549.3 636.8,550.7 619.7,552.1 608.1,553.5 595.9,550.7 579.3,543 566.5,545.2 550.6,547.5 521.8,553.8 512,557.6 504.1,560.4 501.5,561.8 498.3,563.1 493.1,564.9 487.3,568.7 481.2,571.4 475.7,573.5 464.3,576.9 452.8,578.3 435.6,579.9 406.8,578.2 378.1,575.1 349.3,573.1 320.5,569.4 304.3,566.6 302,565.9 298.5,564.5 295.8,563.1 293.7,561.8 291.8,560.2 276.8,557.6 263.1,555.6 259.3,557.6 252.8,560.4 244,563.1 229.1,566.6 219.8,568 205.6,570.4 176.8,569.4 168.4,568.7 148.1,566.2 146.1,564.5 142.1,561.8 136.6,559 129.2,556.2 125,554.9 119.3,553.3 114.7,565.9 111.1,572.8 109.4,579.7 107.6,593.5 105.5,600.4Z"/>
<path fill="#13864a" d="M105.9,600.4 1470.5,600.4 1470.5,576.5 1456.1,578.3 1452.2,579 1449.4,579.7 1441.8,582.8 1423.6,584.5 1413,586 1407.1,586.6 1396.6,588 1393.8,588.7 1388.4,590.7 1384.3,591.9 1355.5,593.9 1350.8,590.7 1347.7,587.3 1344.9,585.9 1340.8,584.5 1315.8,579 1298,576.1 1287,578.3 1278,581.1 1269.3,583 1255.5,584.5 1240.5,587.2 1211.8,588.8 1183,589.6 1154.3,590 1096.8,588.9 1068,589.4 1010.5,587.9 981.8,588.2 936.3,583.2 922.3,581.1 910.3,579.7 895.5,577.6 874.8,573.5 867.2,571.4 855.9,568 847.7,565.9 840.5,563.1 831.1,559 819.6,554.9 816.6,553.5 812.2,550.7 809.3,548.5 806.6,545.2 802.5,541.1 800.5,539.7 783.8,531.4 780.6,529 751.8,531.3 743.6,534.2 723.1,539.4 719,541.1 716.2,542.5 694.3,549.3 665.6,548.3 659,549.3 645.6,550.7 636.8,552 619.6,553.5 610,554.9 608.1,555.4 587.5,550.7 579.3,546.9 562.6,549.3 550.6,550.8 538.1,553.5 530.8,554.9 524.7,556.2 521.8,557.1 513,560.4 512.7,561.8 512.9,563.1 508.9,564.5 499.6,567.3 493.1,569.6 487.6,572.1 484.2,573.5 464.3,579.2 452,580.4 435.6,581.5 406.8,579.8 378.1,576.9 349.3,575 340.4,574.2 327.9,572.8 312.1,570.7 291.8,567.6 282.5,566.6 278.8,565.9 266.6,564.5 263.1,563.9 261.3,564.5 249.2,566.6 234.3,568.6 205.6,572.8 176.8,571.8 148.1,570 144.1,566.6 141.1,564.5 136.3,561.8 129.8,559 119.3,555.7 115.5,565.9 111.7,572.8 110,579.7 108.1,593.5 105.9,600.4Z"/>
<path fill="#0f8a3e" d="M106.4,600.4 1470.5,600.4 1470.5,577.3 1461.1,578.3 1453.2,579.7 1441.8,584 1434.8,584.5 1415.2,587.3 1407.8,588 1403.8,588.7 1384.3,594.4 1363.2,595.6 1355.5,596.3 1351,593.5 1347.1,590.7 1343.8,587.3 1340.5,585.9 1332.7,583.8 1324.7,582.5 1304.9,578.3 1298,577.4 1292.7,578.3 1283.4,581.1 1270.8,583.8 1264.1,584.5 1253.6,586.6 1241.2,588.7 1225.9,589.4 1211.8,590.5 1154.3,591.6 1125.5,591 1096.8,590.1 1068,590.6 1054.8,590.1 1010.5,588.8 981.8,589 950.6,585.9 939.2,584.5 924.3,583.2 916.3,581.8 911,581.1 895.5,579.7 883.3,576.9 866.8,574.2 854.1,570 846.6,568 838,565.9 832.4,563.1 825.8,560.4 810.1,554.9 809.3,554.4 808.2,553.5 804.7,549.3 801.7,545.2 797.6,541.1 795.6,539.7 780.6,532 770.3,532.8 751.8,534.7 742.4,536.9 727.2,541.1 723.3,542.5 709.6,546.6 697.1,550.7 694.3,551.2 665.6,549.7 654.3,550.7 636.8,553 616.8,554.9 610.6,556.2 608.1,557.3 596.8,554.9 579.3,550.8 564.4,552.1 550.6,553.9 536.1,556.2 530.1,557.6 525.5,559 521.8,560.4 524.8,563.1 522.8,564.5 521.8,565 509.8,568 500.7,570.7 492.7,573.5 484.7,575.6 465.5,581.1 464.3,581.3 435.6,583.2 406.8,581.5 397.9,580.4 378.1,578.6 349.3,576.9 325.7,574.9 287.8,570 263.1,567.7 256.3,568.7 243.4,570 228.3,572.1 216.3,573.5 205.6,575.2 176.8,574.3 148.1,573 145.7,570.7 142,568 133.4,563.1 127,560.4 119.3,557.9 116.2,565.9 112.4,572.8 110.6,579.7 108.7,593.5 106.4,600.4Z"/>
<path fill="#0b8e2a" d="M106.9,600.4 1470.5,600.4 1470.5,577.9 1460.7,579 1456.9,579.7 1450.5,581.8 1445.2,583.8 1442.9,584.5 1441.8,585.1 1426.7,587.3 1413,588.8 1400.6,592.1 1393.6,594.2 1390.3,594.9 1384.3,595.8 1355.5,597.6 1351.4,596.3 1349.2,594.9 1343.3,590.7 1339.9,587.3 1338.4,586.6 1330.6,584.5 1326.8,583.8 1317.3,582.5 1298,578.4 1288.8,581.1 1280.1,583.2 1271.7,584.5 1263,586.6 1251.8,588.7 1240.5,589.7 1226.8,590.7 1211.8,591.6 1154.3,592.6 1125.5,592 1096.8,590.8 1068,591.3 1010.5,589.5 981.8,589.6 941.4,585.9 921.9,583.8 906.1,581.8 892.8,580.4 887.4,579.7 877.7,577.6 859,574.2 850.3,571.4 837.3,568 830.7,565.9 821,561.8 809.3,557.7 806.1,556.2 803.8,554.9 802.4,553.5 799.4,549.3 796.8,545.2 792.6,541.1 790.7,539.7 780.6,534.2 751.8,537.1 737.9,541.1 733.7,542.5 723.1,544.6 716.4,546.6 704.5,550.7 694.3,552.3 665.6,550.5 649.9,552.1 639.7,553.5 623.6,554.9 615.1,556.2 608.1,558.5 600,557.6 579.3,552.8 550.6,555.8 540,557.6 534.3,559 531.4,560.4 532.5,563.1 530.8,564.5 528.1,565.9 524.3,567.3 511.6,570.7 502.7,573.5 493.1,575.5 472.8,581.1 469.7,581.8 464.3,582.6 435.6,584.3 406.8,582.6 378.1,579.9 338.9,577.6 315.4,575.6 291.8,572.6 263.1,570.1 245.9,572.1 225.7,574.2 205.6,576.9 148.1,575.1 146.7,574.2 142.6,570.7 138.1,568 128.1,563.1 124.7,561.8 119.3,559.9 117,565.9 113.1,572.8 111.2,579.7 109.2,593.5 106.9,600.4Z"/>
<path fill="#07921e" d="M107.4,600.4 1470.5,600.4 1470.5,578.4 1460.6,579.7 1458,580.4 1445.8,584.5 1441.8,586.8 1427,588.7 1414.7,590.7 1406.6,592.8 1402.1,594.2 1395.6,595.6 1384.3,597 1355.5,598.8 1347.3,596.3 1341.3,592.1 1339.6,590.7 1337.6,588.7 1336,587.3 1334.3,586.6 1326.8,584.8 1313.8,583.2 1298,580 1286,583.2 1277.7,584.5 1275.1,585.2 1269.3,587.3 1262.4,588.7 1251.2,590.1 1240.5,591.1 1211.8,592.7 1154.3,593.5 1125.5,592.9 1096.8,591.5 1068,592 1010.5,590 981.8,590.1 970.4,589.4 953,587.7 938.9,586.6 913.3,583.8 884,580.4 879.3,579.7 857.4,575.6 851.1,574.2 838,570.4 831.7,569.4 829,568.7 826.9,567.3 825.3,566.6 816.6,563.1 804.9,559 801.9,557.6 799.6,556.2 797.7,554.9 796.6,553.5 794,549.3 791.8,545.2 787.6,541.1 785.8,539.7 780.6,536.9 766.8,538.3 751.8,540.2 739.1,543.8 732.7,545.2 723.1,546.7 711.8,550.7 704.8,552.1 694.3,553.2 680.6,552.1 665.6,551.2 645.6,553.5 630.3,554.9 619.6,556.2 614.5,557.6 608.1,559.7 599,559 589.8,557.6 585.4,556.2 579.3,554.9 550.6,557.5 543,559 540.9,560.4 540.3,563.1 538.7,564.5 536.6,565.9 533.6,567.3 527.8,569.4 509.9,574.2 500.1,576.3 493.1,577.5 477.3,581.8 464.3,583.8 435.6,585.3 406.8,583.6 378.1,581 330.1,578.3 313.8,576.9 291.8,574.4 263.1,572.2 250.3,573.5 234.3,574.8 205.6,578.4 148.1,576.9 144.1,574.2 141.6,572.1 138.2,570 132.6,567.3 128.8,565.9 122.7,563.1 119.3,561.9 117.8,565.9 113.7,572.8 111.8,579.7 109.8,593.5 107.4,600.4Z"/>
<path fill="#03960a" d="M107.8,600.4 1354.8,600.4 1343.3,596.3 1338.3,592.8 1335.9,590.7 1333.9,588.7 1332.1,587.3 1330.3,586.6 1326.8,585.7 1306.1,583.2 1298,581.5 1291.8,583.2 1283.8,584.5 1281,585.2 1276.5,586.6 1269.3,589.4 1254.3,591.4 1240.5,592.5 1211.8,593.9 1154.3,594.3 1125.5,593.7 1096.8,592.1 1068,592.7 1010.5,590.5 981.8,590.6 962.8,589.4 953,588.4 937.2,587.3 924.3,586.1 895.5,582.7 890.4,582.5 883.3,581.8 855.5,576.9 846,574.9 838,572.7 828.3,571.4 824.3,570.7 818.1,569.4 817.4,568.7 818.8,567.3 817.8,566.6 809.3,563.4 803.3,561.8 799.7,560.4 796.9,559 794.8,557.6 791.7,554.9 790.8,553.5 788.7,549.3 786.9,545.2 782.7,541.1 780.6,539.5 751.8,543.5 746.5,545.2 740.3,546.6 732.5,548 723.1,549.3 719.2,550.7 713.8,552.1 703.5,553.5 694.3,554.1 688.3,553.5 665.6,551.9 624.1,556.2 618,557.6 608.1,560.7 595.9,560.4 583.2,559 579.3,557.5 561.1,559 550.6,560.2 546.7,564.5 545.1,565.9 543,567.3 538.9,569.4 533,571.4 528.3,572.1 525.2,572.8 517.6,574.9 511.7,576.3 493.1,579.6 484.9,581.8 480.8,582.5 464.3,585.1 445.3,585.9 435.6,586.3 406.8,584.6 378.1,582 343.7,580.4 320.6,579.1 304.7,577.6 291.8,576.2 263.1,574.2 247.3,575.6 234.3,576.4 205.6,579.8 176.8,579.1 148.1,578.7 141.4,574.2 139.8,572.8 136.3,570.7 130.3,568 124.1,565.9 119.3,563.9 118.6,565.9 114.4,572.8 112.4,579.7 110.3,593.5 107.8,600.4ZM1358.4,600.4 1470.5,600.4 1470.5,578.9 1464.4,579.7 1461.5,580.4 1454.9,582.5 1448.7,584.5 1447.1,585.2 1441.8,588.4 1430.4,590.1 1422.3,591.4 1415.5,592.8 1408.3,594.9 1401.9,596.3 1391.6,597.6 1372.8,599 1358.4,600.4Z"/>
<path fill="#039a02" d="M108.3,600.4 1349.7,600.4 1339.2,596.3 1334.4,592.8 1330.8,589.4 1329.2,588 1328.3,587.3 1326.8,586.8 1298,583.1 1289.9,584.5 1281.8,586.6 1271.6,590.7 1269.3,592 1262.4,592.8 1250.3,593.5 1217,594.9 1154.3,595.1 1125.5,594.6 1116.6,594.2 1096.8,592.8 1068,593.4 1057.3,592.8 1010.5,591 981.8,591 955.2,589.4 927.2,587.3 910.6,585.2 895.5,583.8 876.1,583.2 872,582.5 870.5,581.8 869.6,581.1 866.8,580.4 860.9,579.7 852.5,578.3 838,574.9 828.5,574.2 817.4,572.8 810.7,571.4 803.7,569.4 804.3,568.7 809.3,567.8 810.8,567.3 810.3,566.6 809.3,566.2 800.2,564.5 795.8,563.1 792.8,561.8 790.6,560.4 789,559 787.7,557.6 785.6,554.9 783.9,550.7 782,545.2 780.6,543.8 771.4,545.2 765.1,546.6 751.8,548 745.3,549.3 740.9,550.7 723.1,552 717.9,553.5 699.1,554.9 694.3,555 678.9,553.5 665.6,552.6 643.8,554.9 636.8,555.4 628.6,556.2 621.6,557.6 608.1,561.6 596.2,561.8 580.3,563.1 579.3,563.7 573.1,564.5 558.8,565.9 555,566.6 553,567.3 551.7,568 549.1,570 546.7,571.4 539.6,572.1 532.2,573.5 526.8,574.9 520.4,576.9 510.4,578.3 488.5,582.5 464.3,586.3 455.6,586.6 435.6,587.2 406.8,585.6 378.1,583.1 320.6,580.6 312.2,579.7 287.4,577.6 263.1,576.3 234.3,578.1 217,579.7 205.6,581.3 176.8,580.6 148.1,580.5 138.8,574.2 137.1,572.8 134.6,571.4 126.4,568 119.3,565.9 115.5,572.1 114.8,573.5 113,579.7 110.9,593.5 108.3,600.4ZM1378.5,600.4 1470.5,600.4 1470.5,579.4 1465,580.4 1451.6,584.5 1446,587.3 1441.8,590.1 1429.6,592.1 1420.6,594.2 1416.9,594.9 1412.8,596.3 1405.8,597.6 1400.5,598.3 1378.5,600.4Z"/>
<path fill="#1ba410" d="M108.8,600.4 1344.6,600.4 1338,597.6 1335.2,596.3 1330.5,592.8 1326.8,589.1 1320.5,587.3 1298,584.2 1292.8,585.2 1287.2,586.6 1277.8,590.7 1269.3,595.3 1154.3,595.8 1132.3,595.6 1105.8,594.9 1096.5,594.2 1068,593.8 1010.5,591.5 981.8,591.4 946.4,589.4 919.7,587.3 909.2,585.9 895.5,584.4 866.8,583.8 862.2,583.2 860.1,581.8 858.2,581.1 852.3,580.4 848.1,579.7 841.8,578.3 838,577.2 827.1,576.9 813.2,576.3 809.3,575.9 808.5,574.9 806.7,573.5 803.6,572.1 800.9,571.4 796.7,570.7 788.9,570 788,569.4 787.9,568.7 789.9,567.3 789,566.6 787.2,565.9 784.8,564.5 783.3,563.1 781.6,560.4 780.6,557.6 778.5,559 775.1,561.8 751.8,563 739,560.4 722.3,559 719.3,557.6 708.2,556.2 694.3,555.9 684.8,554.9 665.6,553.2 650.6,554.9 633.1,556.2 625.1,557.6 619.8,559 610.6,561.8 608.1,562.3 592.7,563.1 585.6,564.5 579.3,566.1 571.3,566.6 565.7,567.3 562.1,568 559.6,568.7 556.4,570 554.4,571.4 538.1,574.2 532.3,575.6 525.3,577.6 512.6,579.7 501.6,581.8 491.1,583.2 469.8,586.6 464.3,587.1 435.6,588.1 399.2,585.9 378.1,584 320.6,581.7 291.8,579.2 263.1,577.5 234.3,579.1 221.1,580.4 211.1,581.8 205.6,582.2 176.8,581.6 148.1,581.6 146.3,581.1 136.1,574.2 134.3,572.8 133,572.1 128.3,570 119.3,567.1 115.7,572.8 115,574.9 113.6,579.7 111.4,593.5 108.8,600.4ZM1401.2,600.4 1470.5,600.4 1470.5,580 1463.4,581.8 1452.7,585.2 1449.8,586.6 1446.1,588.7 1441.8,591.9 1431.2,594.2 1424.9,594.9 1421.1,595.6 1416.5,597 1415.1,597.6 1413,599 1401.2,600.4Z"/>
<path fill="#33ad1f" d="M109.3,600.4 1339.5,600.4 1332.3,597 1326.8,593 1319.2,590.1 1310.4,587.3 1307.2,586.6 1298,585.4 1292.6,586.6 1283.9,590.7 1275.3,595.6 1269.3,597.2 1240.5,597.7 1235.8,597 1221.2,596.3 1211.8,596.1 1183,596 1146.4,596.3 1096.8,595.6 1088.8,594.9 1049.4,593.5 1010.5,591.9 981.8,591.8 937.1,589.4 924.3,588.4 913.3,587.3 895.5,585.2 866.8,584.6 855.7,583.2 853.7,582.5 850.7,581.8 846.2,581.1 838,580.4 809.3,579.7 808.4,579 807.3,576.9 805.9,575.6 804.7,574.9 801.3,573.5 796.2,572.1 791.9,571.4 780.6,570.4 778.1,570 776.8,568.7 775.7,568 774.1,567.3 771.2,566.6 764.7,565.9 751.8,565.1 745.6,563.1 737.2,561.8 721.9,560.4 702,557.6 694.3,557.1 689.1,556.2 665.6,553.9 657.3,554.9 636.8,556.3 628.7,557.6 623,559 613.9,561.8 608.1,563 605,563.1 593,564.5 579.3,567.2 572.5,568 568.4,568.7 563.1,570 559.9,571.4 556.3,572.1 550.6,573.6 540,575.6 531.9,577.6 528.2,578.3 521.8,579.9 506.5,582.5 493.1,584.1 477.6,586.6 464.3,587.8 435.6,589 387.7,585.9 378.1,585 320.6,582.9 291.8,580.4 263.1,578.5 234.3,580 219.3,581.8 205.6,583 176.8,582.4 148.1,582.5 143.6,581.1 131.6,572.8 126.9,570.7 119.3,568.2 116.4,572.8 115.2,576.3 114.2,579.7 112,593.5 109.3,600.4ZM1414.7,600.4 1470.5,600.4 1470.5,580.8 1457.4,584.5 1452.4,586.6 1448.4,588.7 1445.2,590.7 1443.5,592.1 1441.8,594.2 1433,594.9 1427.6,595.6 1423.9,596.3 1419.3,597.6 1416.6,599 1414.7,600.4Z"/>
<path fill="#43b428" d="M109.8,600.4 1334.4,600.4 1330.3,598.3 1326.8,596 1320.5,594.2 1309,590.1 1298,586.6 1286.2,592.8 1281.9,595.6 1275.5,597.6 1269.3,599 1257.6,598.3 1240.5,598.1 1231.2,597.6 1222.1,597 1211.8,596.6 1183,596.4 1154.3,596.6 1125.5,596.5 1096.8,595.9 1077.6,594.9 1010.5,592.3 981.8,592.2 964.2,591.4 927.9,589.4 906.8,587.3 895.5,586 866.8,585.4 853.8,583.8 849.2,583.2 846,582.5 838,581.4 809.3,580.6 806.6,579 805.6,577.6 803.9,576.3 800.9,574.9 793,572.8 788.8,572.1 780.6,571.2 773.3,570 769.9,568.7 767.4,568 763.5,567.3 751.8,566.3 739,563.1 728.6,561.8 711.5,560.4 694.3,558.3 681.4,556.2 665.6,554.7 647.3,556.2 636.8,556.9 632.3,557.6 626.3,559 617.2,561.8 610.9,563.1 608.1,563.7 600.3,564.5 591.6,565.9 583.8,567.3 579.3,568.4 573,569.4 569.8,570 565.3,571.4 555.3,573.5 550.6,575 535,578.3 521.8,581.5 516,582.5 506,583.8 493.1,585.3 485.3,586.6 472.5,588 464.3,588.7 435.6,590 378.1,586.1 349.3,585.3 320.6,584.2 291.8,581.5 263.1,579.5 234.3,581 205.6,583.8 176.8,583.3 148.1,583.5 140.9,581.1 128.9,572.8 123.7,570.7 119.3,569.4 117,572.8 115.4,577.6 114.8,579.7 112.5,593.5 109.8,600.4ZM1418.1,600.4 1470.5,600.4 1470.5,581.6 1460.3,584.5 1453.5,587.3 1447.3,590.7 1445.4,592.1 1443.5,594.2 1441.8,594.8 1434.2,595.6 1426,597 1421.8,598.3 1420.2,599 1418.1,600.4Z"/>
<path fill="#5bbd37" d="M110.2,600.4 1264.5,600.4 1257.8,599 1240.5,598.5 1211.8,597.1 1183,596.7 1154.3,596.9 1125.5,596.8 1096.8,596.3 1068,594.9 1010.5,592.8 981.8,592.6 969.4,592.1 924.3,589.8 919,589.4 895.5,586.7 866.8,586.2 852.2,584.5 838,582.4 809.3,581.5 804.9,579 803.4,577.6 801.2,576.3 797.1,574.9 790.6,573.5 768.5,570 763.1,568.7 759.1,568 751.8,567.2 745,565.9 739.4,564.5 732.4,563.1 723.1,562 701.2,560.4 694.3,559.6 673.7,556.2 665.6,555.5 635.8,557.6 629.6,559 620.4,561.8 614.6,563.1 608.1,564.5 588.6,567.3 582.3,568.7 579.3,569.6 564.4,572.8 556.7,574.2 554.3,574.9 550.6,576.4 532.7,580.4 528.7,581.1 525.8,581.8 521.5,583.2 506.1,585.2 475.2,588.7 464.3,589.5 435.6,590.9 414.1,589.4 378.1,587.1 349.3,586.6 320.6,585.4 291.8,582.7 263.1,580.6 234.3,581.9 205.6,584.7 176.8,584.2 148.1,584.4 143.9,583.2 138.2,581.1 136.4,579.7 126.2,572.8 119.3,570.3 117.7,572.8 115.4,579.7 113.1,593.5 110.2,600.4ZM1274.1,600.4 1329.3,600.4 1326.8,599 1320.8,597.6 1316,596.3 1312,594.9 1307,592.8 1298,589.8 1292.3,592.8 1288.5,595.6 1287.1,596.3 1283.6,597.6 1274.1,600.4ZM1421.5,600.4 1470.5,600.4 1470.5,582.4 1461.2,585.2 1454.5,588 1448.4,591.4 1445.3,594.2 1441.8,595.5 1434.9,596.3 1430.7,597 1427.9,597.6 1423.8,599 1421.5,600.4Z"/>
<path fill="#6bc440" d="M110.7,600.4 1254.9,600.4 1246.3,599 1211.8,597.5 1183,597.1 1125.5,597.2 1096.8,596.6 1068,595.3 1039.3,594.4 1010.5,593.2 977.3,592.8 942.4,591.4 916.5,590.1 910.5,589.4 906.4,588.7 895.5,587.5 866.8,587.1 850.5,585.2 838,583.4 809.3,582.4 807.3,581.1 803.2,579 801.3,577.6 800,576.9 796.2,575.6 793.2,574.9 773,571.4 763.7,570 756.3,568.7 751.8,568.1 740.4,565.9 734.2,564.5 725.8,563.1 694.3,560.7 675.5,557.6 665.6,556.2 646.8,557.6 636.8,558.1 632.9,559 623.7,561.8 618.4,563.1 612.1,564.5 589.5,568 583.6,569.4 579.3,570.7 569.8,572.8 560.5,574.2 555.4,575.6 550.6,577.9 539.2,580.4 530.6,581.8 525.5,583.2 521.8,584.7 506.3,586.6 478.5,589.4 464.3,590.3 435.6,591.9 406.8,589.7 378.1,588.2 349.3,587.8 320.6,586.6 291.6,583.8 263.1,581.6 234.3,582.9 205.6,585.5 176.8,585.1 148.1,585.4 142.8,583.8 135.5,581.1 133.8,579.7 123.4,572.8 119.3,571.3 118.4,572.8 116,579.7 113.6,593.5 110.7,600.4ZM1283.6,600.4 1319.6,600.4 1312.4,599 1307.9,597.6 1302.8,595.6 1298,593.1 1295.2,595.6 1291.7,597.6 1288.4,599 1283.6,600.4ZM1424.8,600.4 1470.5,600.4 1470.5,583.3 1464,585.2 1456.9,588 1450.4,591.4 1447.1,594.2 1441.8,596.1 1435.5,597 1429.5,598.3 1427.4,599 1424.8,600.4Z"/>
<path fill="#83cd4f" d="M111.2,600.4 1245.3,600.4 1236.9,599 1211.8,597.9 1183,597.5 1125.5,597.5 1096.4,597 1064.7,595.6 1039.3,594.8 1010.5,593.6 981.8,593.3 963.4,592.8 928.1,591.4 904.5,590.1 899.5,588.7 895.5,588.2 866.8,587.9 857.3,586.6 843.4,585.2 838,584.5 809.3,583.3 805.9,581.1 801.4,579 799.1,577.6 797.6,576.9 793,575.6 789.4,574.9 784.1,574.2 768.6,571.4 751.8,569 729,564.5 723.1,563.6 694.3,561.8 684.7,560.4 665.6,557.3 636.8,558.9 622.2,563.1 616.4,564.5 608.1,566 593.9,568 587.2,569.4 584.6,570 579.3,571.9 575.2,572.8 568.9,573.5 561,574.9 558.4,575.6 550.6,579.3 545.7,580.4 539.8,581.1 532,582.5 529.3,583.2 525.3,584.5 521.8,586.4 513.6,587.3 504,588 482.7,590.1 444.8,592.1 435.6,592.9 428,592.1 406.8,590.6 378.1,589.3 349.3,589.1 320.6,587.9 309.1,586.6 287,584.5 263.1,582.7 234.3,583.8 205.6,586.3 176.8,585.9 148.1,586.3 143.8,585.2 139.4,583.8 132.8,581.1 131.2,579.7 120.7,572.8 119.3,572.3 118.5,574.2 116.6,579.7 114.1,593.5 111.2,600.4ZM1293.2,600.4 1305.2,600.4 1298,599 1293.2,600.4ZM1428.2,600.4 1470.5,600.4 1470.5,584.1 1464.7,585.9 1457.8,588.7 1452.5,591.4 1448.8,594.2 1441.8,596.7 1436.4,597.6 1431,599 1428.2,600.4Z"/>
<path fill="#9bd75d" d="M111.7,600.4 1237.3,600.4 1229.7,599 1211.8,598.2 1183,597.8 1125.5,597.8 1086.7,597 1054.7,595.6 1010.5,594 981.8,593.6 953,592.9 924.3,591.7 895.5,590.2 893.7,590.1 892.4,589.4 877.9,588.7 866.8,588.5 851.2,586.6 838,585.4 824.7,584.5 809.3,584 804.6,581.1 799.7,579 797,577.6 792.8,576.3 789.8,575.6 779.6,574.2 772.7,572.8 764.3,571.4 749,569.4 723.1,564.4 694.3,562.5 686.4,561.8 665.6,558.4 636.8,559.8 625.9,563.1 620.7,564.5 609.4,566.6 603.2,567.3 594.2,568.7 588,570 580.2,572.8 568.2,574.2 561.4,575.6 555.9,578.3 551.3,580.4 540.2,581.8 533.2,583.2 526.6,585.2 522.8,587.3 521.8,587.6 506,588.7 493.1,590.2 480.3,590.7 464.3,591.8 444.3,592.8 435.6,593.6 432.9,593.5 418.3,592.1 406.8,591.4 378.1,590.2 349.3,590.2 320.6,589 305.7,587.3 275.6,584.5 263.1,583.6 234.3,584.7 217.5,585.9 205.6,587 176.8,586.7 148.1,587.2 145.1,586.6 140,585.2 136.1,583.8 132.9,582.5 130.1,581.1 128.5,579.7 119.3,573.7 117.2,579.7 114.7,593.5 111.7,600.4ZM1431.6,600.4 1470.5,600.4 1470.5,584.9 1463.5,587.3 1458.6,589.4 1453.4,592.1 1450.6,594.2 1441.8,597.4 1434.6,599 1431.6,600.4Z"/>
<path fill="#abdd67" d="M112.2,600.4 1230.9,600.4 1222.5,599 1211.8,598.6 1183,598 1125.5,598 1077,597 1010.5,594.3 981.8,593.9 953,593.2 923.8,592.1 895.5,590.7 886.5,590.1 879.6,589.4 866.8,589 838,585.9 809.3,584.5 807.5,583.8 803.2,581.1 794.9,577.6 790.1,576.3 786.6,575.6 775.7,574.2 768.7,572.8 759.9,571.4 744.1,569.4 723.1,565.3 694.3,563.1 678.6,561.8 665.6,559.6 636.8,560.8 624.9,564.5 618.7,565.9 614.8,566.6 608.1,567.3 598.2,568.7 591.3,570 583.6,572.8 572.1,574.2 564.4,575.6 559.1,578.3 554.3,580.4 550.6,581.1 540.5,582.5 534.1,583.8 529.5,585.2 525,587.3 521.8,588.3 515.7,588.7 501.5,590.1 493.1,590.6 452.6,592.8 444.1,593.5 435.6,593.9 425.2,593.5 406.8,592 378.1,591 349.3,591 320.6,589.9 295.6,587.3 263.1,584.5 234.3,585.3 205.6,587.6 176.8,587.2 148.1,587.9 140.8,586.6 136.3,585.2 132.7,583.8 127.4,581.1 125.9,579.7 119.3,575.4 117.8,579.7 115.2,593.5 112.2,600.4ZM1435,600.4 1470.5,600.4 1470.5,585.8 1464.2,588 1459.4,590.1 1455.3,592.1 1452.4,594.2 1441.8,598.2 1438.2,599 1435,600.4Z"/>
<path fill="#c3e775" d="M112.6,600.4 1224.5,600.4 1215.4,599 1211.8,598.9 1183,598.2 1125.5,598.2 1068,597 1055.9,596.3 1010.5,594.6 981.8,594.2 953,593.5 917.1,592.1 866.8,589.4 857.7,588.7 838,586.5 809.3,584.9 806.2,583.8 801.8,581.1 794.6,578.3 790.3,576.9 783.4,575.6 771.8,574.2 760.4,572.1 739.2,569.4 723.1,566.2 702.6,564.5 681.8,563.1 670.7,561.8 665.6,560.9 636.8,561.8 633.5,563.1 629.2,564.5 623.6,565.9 620.1,566.6 608.1,567.8 598.1,569.4 594.7,570 586.9,572.8 575.9,574.2 567.4,575.6 562.3,578.3 557.3,580.4 550.6,581.7 540.8,583.2 537.6,583.8 532.3,585.2 527.2,587.3 521.8,588.9 493.1,591.1 435.6,594.2 417.6,593.5 406.8,592.6 378.1,591.8 349.3,591.7 320.6,590.7 293.5,588 263.1,585.3 234.3,585.8 205.6,588.1 176.8,587.6 148.1,588.5 139.4,587.3 136.5,586.6 132.5,585.2 129.4,583.8 126.9,582.5 124.7,581.1 123.3,579.7 119.3,577.1 118.4,579.7 115.8,593.5 112.6,600.4ZM1438.4,600.4 1470.5,600.4 1470.5,586.6 1464.8,588.7 1460,590.7 1457.3,592.1 1454.2,594.2 1446.6,597 1438.4,600.4Z"/>
<path fill="#d3ed7f" d="M113.1,600.4 1218.2,600.4 1207.7,599 1183,598.4 1125.5,598.4 1068,597.1 1010.5,594.8 953,593.7 910.3,592.1 866.8,589.8 852.5,588.7 838,587.1 831.7,586.6 809.3,585.3 804.9,583.8 800.4,581.1 792.7,578.3 787.8,576.9 780.6,575.6 768,574.2 760.8,572.8 751.8,571.5 738.7,570 734.3,569.4 723.1,567.1 704.9,565.9 694.3,564.9 669.3,563.1 665.6,562.5 636.8,563.3 633.5,564.5 625.5,566.6 620.7,567.3 608.1,568.4 598,570 590.3,572.8 570.3,575.6 565.5,578.3 560.3,580.4 553.4,581.8 544.6,583.2 537.8,584.5 532.9,585.9 527.3,588 521.8,589.5 493.1,591.6 435.6,594.5 423.2,594.2 406.8,593.3 378.1,592.6 349.3,592.4 320.6,591.6 291.8,588.7 263.1,586.1 234.3,586.4 205.6,588.6 176.8,588 148.1,589.2 138.3,588 134.7,587.3 132.2,586.6 128.8,585.2 126,583.8 122.9,581.8 120.7,579.7 119.3,578.8 118.3,583.2 116.3,593.5 113.1,600.4ZM1441.8,600.4 1470.5,600.4 1470.5,587.5 1462.2,590.7 1459.3,592.1 1455.9,594.2 1445,598.3 1443.5,599 1441.8,600.4Z"/>
<path fill="#ebf78d" d="M113.6,600.4 1211.8,600.4 1199.4,599 1183,598.6 1125.5,598.6 1068,597.3 1010.5,595.1 953,594 903.6,592.1 866.8,590.2 847.3,588.7 834.4,587.3 809.3,585.8 803.6,583.8 800.4,581.8 797.2,580.4 790.8,578.3 785.4,576.9 780.6,576.1 769,574.9 764.1,574.2 756.9,572.8 751.8,572.1 737.8,570.7 729.4,569.4 723.1,568.1 708.2,567.3 694.3,566.3 685.5,565.9 665.6,564.7 636.8,564.9 630.9,566.6 627,567.3 621.5,568 608.1,568.9 601.4,570 593.7,572.8 589.7,573.5 579.3,574.7 573.3,575.6 568.6,578.3 563.3,580.4 556.8,581.8 544.5,583.8 538,585.2 529.5,588 521.8,590.1 492.2,592.1 435.6,594.8 412.3,594.2 406.8,593.9 378.1,593.4 349.3,593.1 320.6,592.4 290.4,589.4 263.1,586.9 234.3,587 205.6,589.1 176.8,588.5 156.1,589.4 148.1,589.9 136.8,588.7 130,587.3 126.4,585.9 123.8,584.5 121.7,583.2 119.3,581.1 116.9,593.5 113.6,600.4ZM1443.5,600.4 1470.5,600.4 1470.5,588.3 1462.7,591.4 1457.7,594.2 1446.8,598.3 1445.3,599 1443.5,600.4Z"/>
<path fill="#fffd97" d="M114.1,600.4 1205.4,600.4 1191.2,599 1183,598.8 1125.5,598.8 1068,597.4 1010.5,595.4 953,594.3 924.3,593.3 896.8,592.1 866.8,590.6 842,588.7 828.9,587.3 809.3,586.2 802.4,583.8 799.1,581.8 795.7,580.4 788.9,578.3 783,576.9 780.6,576.5 764.7,574.9 751.8,572.6 736.8,571.4 731.9,570.7 723.1,569.1 694.3,567.6 665.6,566.8 636.8,566.4 633.3,567.3 629.1,568 622.9,568.7 608.1,569.5 604.7,570 597.1,572.8 588.8,574.2 576.3,575.6 571.8,578.3 566.3,580.4 560.1,581.8 540.8,585.2 535.8,586.6 531.7,588 521.8,590.6 493.1,592.5 435.6,595 420.3,594.9 406.8,594.5 349.3,593.9 330.5,593.5 320.6,593.3 312.2,592.1 295.5,590.7 282.8,589.4 263.1,587.7 234.3,587.6 205.6,589.6 176.8,588.9 153.7,590.1 148.1,590.6 141,590.1 134.6,589.4 127.5,588 123.6,586.6 121.2,585.2 119.3,583.8 117.4,593.5 114.1,600.4ZM1445.3,600.4 1470.5,600.4 1470.5,589.1 1464.8,591.4 1459.5,594.2 1448.5,598.3 1447.1,599 1445.3,600.4Z"/>
<path fill="#fff78d" d="M114.6,600.4 1199,600.4 1183,599 1125.5,599 1068,597.6 1039.3,596.5 1010.5,595.6 953,594.5 922.7,593.5 866.8,590.9 857.5,590.1 837.2,588.7 831.6,588 823.3,587.3 809.3,586.6 801.1,583.8 797.8,581.8 794.2,580.4 787,578.3 780.6,576.9 765.5,575.6 760.4,574.9 751.8,573.3 735.2,572.1 729.7,571.4 723.1,570 694.3,569.1 665.6,569 636.8,568 632.8,568.7 625.6,569.4 608.1,570 600.5,572.8 597.4,573.5 587.6,574.9 579.3,575.6 575,578.3 569.4,580.4 560,582.5 543.6,585.2 521.8,591.1 495.5,592.8 435.6,595.3 378.1,594.9 331.2,594.2 320.6,594 312.6,592.8 306,592.1 291.8,591.1 275.2,589.4 263.1,588.5 234.3,588.1 205.6,590.1 176.8,589.4 161.4,590.1 148.1,591.1 138.8,590.7 131.4,590.1 127,589.4 124.1,588.7 122.1,588 119.3,586.6 118,593.5 114.6,600.4ZM1447.1,600.4 1470.5,600.4 1470.5,590 1465.2,592.1 1459.6,594.9 1450.3,598.3 1448.9,599 1447.1,600.4Z"/>
<path fill="#ffed7f" d="M115,600.4 1192.6,600.4 1183,599.6 1125.5,599.6 1095,598.3 1068,597.7 1039.3,596.6 1010.5,595.7 953,594.8 918,593.5 866.8,591.1 838,589 827.1,588 809.3,586.9 805.6,585.9 799.8,583.8 796.5,581.8 794.9,581.1 790.3,579.7 782,577.6 780.6,577.4 766.5,576.3 760.6,575.6 751.8,574 732.7,572.8 726.5,572.1 723.1,571.5 694.3,571.1 665.6,571.1 636.8,569.7 620.3,570.7 608.1,571.3 603.9,572.8 597.7,574.2 592.8,574.9 585.8,575.6 579.3,577.6 578.2,578.3 576.4,579 569.8,581.1 559.9,583.2 550.3,584.5 543.3,585.9 525.8,590.7 522.7,591.4 501,592.8 435.6,595.5 378.1,595.1 317.9,594.2 307.5,592.8 289.1,591.4 275.9,590.1 263.1,589.1 234.3,588.6 205.6,590.4 176.8,589.7 158.4,590.7 148.1,591.6 137.7,591.4 125.8,590.7 121.8,590.1 119.3,589.4 118.5,593.5 115,600.4ZM1448.9,600.4 1470.5,600.4 1470.5,590.8 1467.2,592.1 1461.4,594.9 1452.1,598.3 1450.7,599 1448.9,600.4Z"/>
<path fill="#ffe775" d="M115.5,600.4 1186.2,600.4 1183,600.1 1125.5,600.1 1088.7,598.3 1068,597.8 1024.1,596.3 1010.5,595.9 953,595 895.5,592.8 866.8,591.4 838,589.3 822.7,588 809.3,587.2 806.4,586.6 800.2,584.5 798.5,583.8 795.1,581.8 793.5,581.1 788.7,579.7 780.6,577.8 767.8,576.9 761,576.3 751.8,574.9 737.2,574.2 723.1,573 665.6,573.1 636.8,571.4 608.1,572.5 605.1,573.5 602.1,574.2 598.1,574.9 592.3,575.6 589.6,576.3 583.7,578.3 579.3,579.1 572.9,581.1 567.1,582.5 559.7,583.8 550.6,585 545.9,585.9 525,591.4 521.8,591.9 506.6,592.8 493.1,593.5 435.6,595.7 411.8,595.6 320.6,594.5 313.9,594.2 302.3,592.8 283.4,591.4 263.1,589.6 234.3,589.1 205.6,590.7 176.8,590 164.4,590.7 148.1,591.9 119.3,592.1 119.1,593.5 115.5,600.4ZM1450.7,600.4 1470.5,600.4 1470.5,591.6 1463.2,594.9 1453.8,598.3 1452.5,599 1450.7,600.4Z"/>
<path fill="#ffdd67" d="M116,600.4 1119.8,600.4 1096.8,599.3 1094.9,599 1082.4,598.3 1068,598 1039.3,596.9 1010.5,596 953,595.1 895.5,593 864.1,591.4 809.3,587.4 804.9,586.6 798.9,584.5 797.2,583.8 793.8,581.8 792.2,581.1 787.1,579.7 780.6,578.2 770.1,577.6 761.4,576.9 751.8,575.7 729.2,574.9 723.1,574.5 694.3,575.2 665.6,575.2 636.8,573.1 608.1,573.8 603.4,574.9 598.7,575.6 595.7,576.3 590.7,578.3 587.6,579 579.3,580.1 573.6,581.8 567.5,583.2 559.1,584.5 550.6,585.5 548.4,585.9 527.3,591.4 521.8,592.2 512.1,592.8 498.9,593.5 435.6,595.9 406.8,595.7 320.6,594.7 309.9,594.2 297.1,592.8 261.2,590.1 234.3,589.5 205.6,591 176.8,590.4 148.1,592.3 129.3,592.8 119.3,594 116,600.4ZM1452.5,600.4 1470.5,600.4 1470.5,592.4 1465,594.9 1455.6,598.3 1454.3,599 1452.5,600.4Z"/>
<path fill="#ffd75d" d="M116.5,600.4 1108.3,600.4 1096.8,599.8 1091,599 1058.6,597.6 1010.5,596.1 953,595.3 895.5,593.2 860.3,591.4 809.3,587.7 803.5,586.6 799.5,585.2 795.9,583.8 792.5,581.8 790.8,581.1 780.6,578.6 762.3,577.6 751.8,576.5 723.1,576 694.3,577.3 665.6,577.6 636.8,574.9 608.1,575 601.9,576.3 597.6,578.3 595.3,579 586.7,580.4 579.3,581.1 571.3,583.2 563.6,584.5 558.7,585.2 550.6,586 545,587.3 529.6,591.4 521.8,592.6 504.9,593.5 435.6,596.1 406.8,595.9 320.6,594.9 305.9,594.2 292,592.8 281.1,592.1 263.1,590.6 240.6,590.1 234.3,589.9 205.6,591.4 176.8,590.7 148.1,592.7 130.6,593.5 123.6,594.2 119.3,594.9 116.5,600.4ZM1454.3,600.4 1470.5,600.4 1470.5,593.2 1466.8,594.9 1457.3,598.3 1454.3,600.4Z"/>
<path fill="#ffcd4f" d="M117,600.4 1096.8,600.4 1087.2,599 1055.9,597.6 1010.5,596.2 953,595.5 895.5,593.4 856.5,591.4 809.3,588 802,586.6 794.7,583.8 791.2,581.8 789.4,581.1 780.6,579 763.6,578.3 751.8,577.4 723.1,577.4 707,578.3 694.3,579.4 665.6,580.4 636.8,577.6 619.6,576.9 608.1,576.3 604.6,578.3 602.9,579 597.4,580.4 592.5,581.1 579.3,582.1 572,583.8 564,585.2 558.1,585.9 550.6,586.5 531.9,591.4 527.9,592.1 521.8,592.9 510.9,593.5 435.6,596.3 406.8,596.2 320.6,595.1 301.9,594.2 291.8,593.2 274.8,592.1 263.1,591.1 234.3,590.4 205.6,591.7 176.8,591.1 148.1,593 138,593.5 129.4,594.2 124,594.9 119.3,595.8 117,600.4ZM1456.1,600.4 1470.5,600.4 1470.5,594 1466.8,595.6 1459.1,598.3 1456.1,600.4Z"/>
<path fill="#ffc440" d="M117.4,600.4 1093.9,600.4 1083.4,599 1053.1,597.6 1010.5,596.4 953,595.7 895.5,593.6 852.7,591.4 809.3,588.3 807.5,588 800.6,586.6 793.4,583.8 789.8,581.8 788,581.1 780.6,579.3 765.8,579 751.8,578.2 723.1,578.8 711,579.7 694.3,581.4 665.6,583.2 636.8,580.4 608.1,580.4 605.8,581.1 602.2,581.8 594.9,582.5 579.3,583 569.3,585.2 564.5,585.9 550.6,587 534.2,591.4 525.6,592.8 516.9,593.5 481.6,594.9 435.6,596.4 406.8,596.4 349.3,595.7 320.6,595.3 308.9,594.9 263.1,591.7 234.3,590.8 205.6,592 176.8,591.4 135.1,594.2 128.6,594.9 120.6,596.3 119.3,596.7 117.4,600.4ZM1457.9,600.4 1470.5,600.4 1470.5,594.8 1460.8,598.3 1457.9,600.4Z"/>
<path fill="#ffbd37" d="M117.9,600.4 1091,600.4 1079.5,599 1050.4,597.6 1010.5,596.5 953,595.8 895.5,593.7 849,591.4 809.3,588.5 805.8,588 799.1,586.6 792.1,583.8 788.5,581.8 786.6,581.1 780.6,579.7 751.8,579.1 733.4,579.7 723.1,580.3 707,581.8 694.3,583.5 665.6,585.4 651.2,584.5 636.8,583.2 619.6,583.8 608.1,584.5 579.3,584 570.9,585.9 565.3,586.6 550.6,587.6 536.5,591.4 528.6,592.8 521.8,593.6 508.1,594.2 448,596.3 435.6,596.6 406.8,596.6 320.6,595.5 303.7,594.9 263.1,592.2 234.3,591.2 205.6,592.3 176.8,591.7 140.8,594.2 133.3,594.9 123,596.3 120.6,597 119.3,597.6 117.9,600.4ZM1459.7,600.4 1470.5,600.4 1470.5,595.5 1462.6,598.3 1459.7,600.4Z"/>
<path fill="#ffb428" d="M118.4,600.4 1088.2,600.4 1075.7,599 1047.6,597.6 1010.5,596.6 953,596 895.5,593.9 866.8,592.6 845.2,591.4 809.3,588.8 804,588 797.6,586.6 790.8,583.8 787.2,581.8 785.3,581.1 780.6,580 751.8,580 730.5,581.1 723.1,581.7 709.6,583.2 694.3,585.3 665.6,587.1 636.8,585.6 622.8,586.6 608.1,587.2 596.3,586.6 588.5,585.9 579.3,585.4 573.5,586.6 567.1,587.3 550.6,588.2 540.9,590.7 538.8,591.4 535.7,592.1 531.6,592.8 521.8,593.9 454.1,596.3 435.6,596.8 406.8,596.8 320.6,595.7 298.5,594.9 263.1,592.7 234.3,591.7 205.6,592.7 176.8,592.1 137.9,594.9 125.5,596.3 122.3,597 120.8,597.6 119.3,598.6 118.4,600.4ZM1461.5,600.4 1470.5,600.4 1470.5,596.2 1464.4,598.3 1461.5,600.4Z"/>
<path fill="#ffad1f" d="M118.9,600.4 1085.3,600.4 1071.9,599 1044.9,597.6 1010.5,596.7 953,596.2 880.6,593.5 841.4,591.4 809.3,589.1 802.2,588 796.2,586.6 789.5,583.8 785.9,581.8 783.9,581.1 780.6,580.3 751.8,580.9 737.2,581.8 729,582.5 716.8,583.8 694.3,586.8 665.6,588.8 636.8,587.7 608.1,588.5 579.3,587.1 571,588 550.6,588.7 538.3,592.1 529.6,593.5 522.3,594.2 460.2,596.3 435.6,597 406.8,597 320.6,595.9 306.9,595.6 263.1,593.2 234.3,592.1 205.6,593 176.8,592.4 150.4,594.2 127.9,596.3 124,597 122.3,597.6 119.3,599.5 118.9,600.4ZM1463.3,600.4 1470.5,600.4 1470.5,596.8 1466.1,598.3 1463.3,600.4Z"/>
<path fill="#ffa410" d="M119.3,600.4 1082.4,600.4 1068,599 1042.1,597.6 1010.5,596.9 981.8,596.5 953,596.4 876.1,593.5 838,591.5 809.3,589.4 800.4,588 794.7,586.6 788.2,583.8 784.5,581.8 780.6,580.6 761.9,581.1 742.2,582.5 728.2,583.8 694.3,588.4 665.6,590.5 636.8,589.8 608.1,589.8 579.3,588.8 550.6,589.3 545.2,590.7 540.9,592.1 537.7,592.8 533.2,593.5 521.8,594.6 435.6,597.1 406.8,597.2 320.6,596.1 299.5,595.6 258.1,593.5 234.3,592.5 205.6,593.3 176.8,592.8 153.6,594.2 139.8,595.6 130.4,596.3 125.8,597 123.7,597.6 121.2,599 119.3,600.4ZM1465.1,600.4 1470.5,600.4 1470.5,597.4 1467.9,598.3 1465.1,600.4Z"/>
<path fill="#ff9a02" d="M120.4,600.4 1079.5,600.4 1064.2,599 1039.4,597.6 1010.5,597 981.8,596.6 953,596.5 871.5,593.5 838,591.7 809.3,589.6 802.3,588.7 798.7,588 793.3,586.6 787,583.8 783.2,581.8 780.6,580.9 761.5,581.8 738.7,583.8 732.6,584.5 723.1,586.3 715.7,587.3 694.3,589.9 665.6,592.2 636.8,592 622.9,591.4 566.2,590.1 550.6,589.9 547.3,590.7 543.5,592.1 536.7,593.5 531.1,594.2 521.8,594.9 435.6,597.3 406.8,597.4 378.1,596.9 316.3,596.3 292.1,595.6 279.8,594.9 234.3,592.9 205.6,593.6 176.8,593.1 156.7,594.2 143.7,595.6 132.9,596.3 127.5,597 125.2,597.6 123.6,598.3 120.4,600.4ZM1466.9,600.4 1470.5,600.4 1470.5,598 1469.6,598.3 1466.9,600.4Z"/>
<path fill="#fc9100" d="M121.4,600.4 1076.7,600.4 1060.4,599 1039.3,597.8 1010.5,597.1 981.8,596.7 953,596.7 867,593.5 838,592 822.8,590.7 809.3,589.9 800.3,588.7 796.9,588 791.8,586.6 787.1,584.5 781.9,581.8 780.6,581.3 771,581.8 742.2,584.5 733.1,585.9 723.1,588 712.6,589.4 694.3,591.5 677.6,592.8 665.6,594.1 636.8,594.1 618.5,592.8 608.1,592.4 579.3,592.2 561.3,590.7 550.6,590.5 546.2,592.1 540.3,593.5 535.4,594.2 521.8,595.2 435.6,597.4 406.8,597.6 378.1,597 306.1,596.3 291.8,595.9 272.8,594.9 234.3,593.4 205.6,593.9 176.8,593.4 159.9,594.2 152.1,594.9 147.6,595.6 135.3,596.3 129.2,597 126.6,597.6 125,598.3 121.4,600.4ZM1468.7,600.4 1470.5,600.4 1470.5,599 1468.7,600.4Z"/>
<path fill="#f88300" d="M122.5,600.4 1073.8,600.4 1056.5,599 1039.3,598 1010.5,597.2 981.8,596.9 953,596.9 921.2,595.6 895.5,594.8 864,593.5 836.7,592.1 819.6,590.7 808,590.1 798.3,588.7 795.1,588 790.4,586.6 785.8,584.5 780.6,581.8 764.2,583.2 746.2,585.2 733.4,587.3 723.1,589.7 706.2,591.4 694.3,593 679.6,594.2 673.7,594.9 665.6,596.2 636.8,596.2 579.3,594.9 574.5,593.5 569.9,592.8 550.6,591.3 546.7,592.8 543.9,593.5 539.8,594.2 533.4,594.9 521.8,595.5 435.6,597.6 424.5,597.6 406.8,597.7 378.1,597.1 344.9,597 295.9,596.3 251.1,594.2 234.3,593.6 205.6,594.2 176.8,593.6 163,594.2 154.4,594.9 149.7,595.6 137.8,596.3 130.9,597 128.1,597.6 126.3,598.3 122.5,600.4Z"/>
<path fill="#f47900" d="M123.5,600.4 1070.9,600.4 1063.1,599.7 1039.3,598.2 1010.5,597.3 981.8,597 953,597 917.8,595.6 893.2,594.9 861,593.5 834.1,592.1 805.3,590.1 796.4,588.7 793.3,588 788.9,586.6 780.6,582.5 759,584.5 740.8,587.3 723.1,591 710.4,592.1 694.3,594.2 680.7,595.6 671.8,597 665.6,598.3 636.8,598.3 608.1,600.4 579.3,598.7 577.8,597.6 574.8,596.3 569.9,594.9 561.7,593.5 550.6,592.5 547.5,593.5 544.2,594.2 539,594.9 529.2,595.6 435.6,597.7 406.8,597.8 378.1,597.2 333.9,597 291.8,596.3 278,595.6 234.3,593.8 205.6,594.3 176.8,593.7 166.2,594.2 156.6,594.9 151.5,595.6 140.2,596.3 132.6,597 129.5,597.6 127.6,598.3 123.5,600.4Z"/>
<path fill="#f06b00" d="M124.6,600.4 577.3,600.4 573.8,598.3 570.2,597 567.7,596.3 560.5,594.9 550.6,593.7 544.6,594.9 537.1,595.6 521.8,596.1 435.6,597.8 406.8,597.9 378.1,597.3 322.8,597 291.8,596.5 234.3,594 205.6,594.4 176.8,593.9 158.9,594.9 153.3,595.6 134.3,597 131,597.6 128.9,598.3 124.6,600.4ZM668.8,600.4 1068,600.4 1059.8,599.7 1038,598.3 1010.5,597.5 981.8,597.1 953,597.1 927.5,596.3 914.4,595.6 890.2,594.9 858,593.5 831.5,592.1 802.7,590.1 798,589.4 794.4,588.7 789.3,587.3 787.4,586.6 780.6,583.2 766.2,584.5 760.8,585.2 744,588 730.8,590.7 723.1,591.9 707.7,593.5 681.5,597 673.8,598.3 668.8,600.4Z"/>
<path fill="#ec6100" d="M125.6,600.4 573.2,600.4 568.8,598.3 564,597 560.6,596.3 550.6,594.8 545.1,595.6 530.5,596.3 435.6,598 406.8,598 378.1,597.4 320.6,597 291.8,596.6 234.3,594.2 205.6,594.6 176.8,594 161.1,594.9 155.2,595.6 136,597 132.4,597.6 130.3,598.3 125.6,600.4ZM675.1,600.4 1065.2,600.4 1056.5,599.7 1033.3,598.3 1010.5,597.6 981.8,597.3 953,597.3 924.3,596.3 911,595.6 887.2,594.9 855.1,593.5 828.9,592.1 800.1,590.1 795.7,589.4 792.4,588.7 787.7,587.3 786,586.6 780.6,583.8 773.4,584.5 762.4,585.9 732.1,591.4 723.1,592.8 705,594.9 686.2,597.6 682,598.3 675.1,600.4Z"/>
<path fill="#e85300" d="M126.7,600.4 569,600.4 565.9,599 561.1,597.6 557.8,597 550.6,595.9 544.6,596.3 521.8,596.7 435.6,598.1 406.8,598.1 378.1,597.5 320.6,597.2 291.8,596.7 234.3,594.4 205.6,594.7 176.8,594.1 163.4,594.9 157,595.6 137.7,597 133.9,597.6 131.6,598.3 126.7,600.4ZM681.5,600.4 1062.3,600.4 1053.2,599.7 1028.6,598.3 1003.6,597.6 981.8,597.4 953,597.4 924.3,596.4 907.7,595.6 884.2,594.9 838,592.8 826.3,592.1 797.4,590.1 793.4,589.4 788,588 784.5,586.6 780.6,584.5 768.4,585.9 742.3,590.7 728.9,592.8 701.5,596.3 694.3,597.7 686.8,599 681.5,600.4Z"/>
<path fill="#e34400" d="M127.7,600.4 564.9,600.4 561.2,599 558.8,598.3 550.6,596.8 493.1,597.3 435.6,598.2 406.8,598.1 378.1,597.6 320.6,597.3 291.8,596.8 274.4,596.3 234.3,594.5 205.6,594.8 176.8,594.3 165.6,594.9 158.8,595.6 139.4,597 135.3,597.6 132.9,598.3 127.7,600.4ZM687.9,600.4 1059.4,600.4 1050,599.7 1023.9,598.3 1010.5,597.9 992.3,597.6 953,597.5 924.3,596.6 904.3,595.6 881.2,594.9 838,592.9 802.7,590.7 794.8,590.1 791.2,589.4 786.2,588 783.1,586.6 780.6,585.2 774.5,585.9 770.3,586.6 748.1,590.7 734.9,592.8 723.1,594.5 707.2,596.3 702.5,597 699,597.6 694.3,599 687.9,600.4Z"/>
<path fill="#e03b00" d="M128.8,600.4 560.8,600.4 556.6,599 553.7,598.3 550.6,597.7 547.8,597.6 521.8,597.3 464.3,597.8 435.6,598.3 406.8,598.2 378.1,597.7 320.6,597.4 291.8,597 270.6,596.3 234.3,594.7 205.6,594.9 176.8,594.4 167.8,594.9 160.6,595.6 141.1,597 136.8,597.6 134.2,598.3 128.8,600.4ZM694.3,600.4 1056.5,600.4 1039.3,599.3 1019.2,598.3 1010.5,598 981.8,597.6 953,597.6 924.3,596.7 900.9,595.6 878.2,594.9 838,593.1 799.1,590.7 792.2,590.1 788.9,589.4 784.5,588 780.6,585.9 768.1,588 751.8,591.1 740.9,592.8 726.8,594.9 712.9,596.3 703.3,597.6 700.1,598.3 694.3,600.4Z"/>
<path fill="#db2c00" d="M129.8,600.4 556.7,600.4 552,599 547.7,598.3 521.8,597.6 464.3,597.9 435.6,598.4 406.8,598.3 378.1,597.8 320.6,597.5 291.8,597.1 266.8,596.3 234.3,594.9 205.6,595.1 176.8,594.5 142.8,597 138.2,597.6 135.6,598.3 129.8,600.4ZM697.7,600.4 1053.7,600.4 1039.3,599.5 1010.5,598.2 981.8,597.7 953,597.8 924.3,596.9 914.1,596.3 875.2,594.9 843.3,593.5 795.4,590.7 789.5,590.1 786.6,589.4 782.7,588 780.6,586.9 751.8,592 737.9,594.2 727.3,595.6 718.7,596.3 707.6,597.6 703.9,598.3 697.7,600.4Z"/>
<path fill="#d82300" d="M130.8,600.4 552.6,600.4 547,599 539.9,598.3 521.8,597.8 464.3,598 435.6,598.5 406.8,598.4 378.1,597.9 320.6,597.6 281.7,597 234.3,595 205.6,595.2 176.8,594.6 144.5,597 139.7,597.6 136.9,598.3 130.8,600.4ZM701.1,600.4 1050.8,600.4 1039.3,599.7 1009.7,598.3 981.8,597.8 953,597.9 924.3,597 911.7,596.3 872.2,594.9 840.3,593.5 791.8,590.7 786.9,590.1 784.4,589.4 780.6,587.8 757,592.1 739.4,594.9 733.9,595.6 717.3,597 711.9,597.6 707.7,598.3 701.1,600.4Z"/>
<path fill="#d31400" d="M131.9,600.4 548.9,600.4 546.1,599.7 542,599 532.2,598.3 521.8,598.1 464.3,598.1 435.6,598.6 406.8,598.5 378.1,598 320.6,597.7 276.8,597 234.3,595.2 205.6,595.3 176.8,594.8 146.2,597 141.1,597.6 138.2,598.3 131.9,600.4ZM704.5,600.4 1047.9,600.4 1039.3,599.8 1004.8,598.3 981.8,597.9 953,598 924.3,597.1 909.3,596.3 852.5,594.2 837.4,593.5 809.3,591.8 796.3,591.4 788.2,590.7 784.3,590.1 780.6,588.7 759,592.8 745.7,594.9 740.4,595.6 722.2,597 711.6,598.3 704.5,600.4Z"/>
<path fill="#ce0600" d="M132.9,600.4 545.5,600.4 542.1,599.7 536.9,599 521.8,598.3 464.3,598.2 435.6,598.8 406.8,598.6 378.1,598.1 320.6,597.8 291.8,597.5 271.8,597 234.3,595.4 205.6,595.5 176.8,594.9 147.9,597 142.6,597.6 139.5,598.3 132.9,600.4ZM707.8,600.4 1045,600.4 1018.2,599 999.9,598.3 981.8,598 953,598.1 924.3,597.3 906.9,596.3 866.2,594.9 838,593.7 809.3,592 790.3,591.4 784.5,590.7 780.6,589.7 764.9,592.8 756.8,594.2 747,595.6 720.5,597.6 715.4,598.3 707.8,600.4Z"/>
<path fill="#cb0000" d="M134,600.4 542.1,600.4 538,599.7 531.9,599 521.8,598.5 464.3,598.3 435.6,598.9 406.8,598.7 378.1,598.1 320.6,597.9 291.8,597.6 266.9,597 234.3,595.5 205.6,595.6 176.8,595 148.1,597.1 144,597.6 140.8,598.3 134,600.4ZM711.2,600.4 1042.2,600.4 1014.4,599 994.9,598.3 981.8,598.1 953,598.3 924.3,597.4 904.5,596.3 846.5,594.2 809.3,592.2 800.7,592.1 784.2,591.4 780.6,590.6 770.9,592.8 759,594.9 746.8,596.3 738.3,597 723.1,597.8 719.2,598.3 711.2,600.4Z"/>
<path fill="#c60000" d="M135,600.4 538.7,600.4 534,599.7 526.9,599 521.8,598.8 464.3,598.4 435.6,599 406.8,598.8 378.1,598.2 320.6,598 291.8,597.7 263.1,597 234.3,595.7 205.6,595.7 176.8,595.2 148.1,597.3 142.2,598.3 135,600.4ZM714.6,600.4 1039.3,600.4 1010.5,599 990,598.3 981.8,598.2 953,598.4 924.3,597.5 902.2,596.3 843.5,594.2 809.3,592.4 782.5,592.1 780.6,592 773.6,593.5 765.9,594.9 746.6,597 723.1,598.3 714.6,600.4Z"/>
<path fill="#c30000" d="M136.1,600.4 535.3,600.4 529.9,599.7 521.8,599 464.3,598.6 435.6,599.1 406.8,598.8 378.1,598.3 320.6,598.1 291.8,597.8 263.1,597.1 234.3,595.8 205.6,595.8 176.8,595.3 148.1,597.5 140.6,599 136.1,600.4ZM718,600.4 1035.4,600.4 1007.7,599 985.1,598.3 953,598.5 924.3,597.6 899.8,596.3 840.5,594.2 809.3,592.5 785.5,592.8 780.6,593.3 772.8,594.9 758,596.3 751.8,597.2 723.1,599.2 718,600.4Z"/>
<path fill="#be0000" d="M137.1,600.4 532,600.4 521.8,599.4 464.3,598.7 435.6,599.3 378.1,598.5 320.6,598.2 291.8,597.9 263.1,597.3 234.3,596 205.6,595.9 176.8,595.4 148.4,597.6 141.8,599 137.1,600.4ZM721.4,600.4 1031.6,600.4 1004.8,599 981.8,598.4 953,598.6 924.3,597.7 897.4,596.3 837.6,594.2 809.3,592.7 798.1,592.8 784.4,593.5 781.6,594.2 780.6,594.7 779.7,594.9 773,595.6 762.7,596.3 756.9,597 751.8,598 723.1,600 721.4,600.4Z"/>
<path fill="#bb0000" d="M138.2,600.4 528.6,600.4 521.8,599.7 464.3,598.9 435.6,599.5 378.1,598.6 291.8,598 263.1,597.4 234.3,596.1 205.6,596.1 176.8,595.6 150.1,597.6 143,599 138.2,600.4ZM728.8,600.4 1027.8,600.4 1001.9,599 981.8,598.4 953,598.8 924.3,597.8 895.5,596.3 866.8,595.4 838,594.3 809.3,592.8 788.8,593.5 784.2,594.2 780.6,595.5 767.4,596.3 760.6,597 756.2,597.6 751.8,598.7 728.8,600.4Z"/>
<path fill="#b60000" d="M139.2,600.4 525.2,600.4 521.8,600.1 464.3,599 435.6,599.7 378.1,598.8 291.8,598.1 263.1,597.5 234.3,596.3 205.6,596.2 176.8,595.7 151.8,597.6 144.3,599 139.2,600.4ZM740.3,600.4 1023.9,600.4 999,599 981.8,598.5 953,598.9 924.3,597.9 895.5,596.4 838,594.4 809.3,593 793.2,593.5 786.8,594.2 783.6,594.9 780.6,595.8 772.1,596.3 764.3,597 759.2,597.6 755.7,598.3 751.8,599.6 740.3,600.4Z"/>
<path fill="#b10000" d="M140.3,600.4 521.8,600.4 464.3,599.3 435.6,599.9 349.3,598.6 320.6,598.5 291.8,598.2 263.1,597.7 234.3,596.4 205.6,596.3 176.8,595.9 153.5,597.6 148.1,598.5 140.3,600.4ZM751.8,600.4 1020.1,600.4 996.2,599 981.8,598.6 953,599 924.3,598 895.5,596.5 838,594.5 809.3,593.1 797.5,593.5 789.5,594.2 785.3,594.9 780.6,596.1 767.9,597 762.2,597.6 758.2,598.3 751.8,600.4Z"/>
<path fill="#ae0000" d="M141.3,600.4 510.3,600.4 464.3,599.5 435.6,600.1 349.3,598.7 320.6,598.6 291.8,598.3 263.1,597.8 234.3,596.6 176.8,596 155.2,597.6 148.1,598.7 141.3,600.4ZM754.1,600.4 1016.3,600.4 993.3,599 981.8,598.7 953,599.2 924.3,598.1 895.5,596.6 838,594.7 809.3,593.3 801.9,593.5 792.1,594.2 786.9,594.9 780.6,596.3 771.6,597 765.3,597.6 760.8,598.3 758.1,599 754.1,600.4Z"/>
<path fill="#a90000" d="M142.3,600.4 498.8,600.4 464.3,599.7 435.6,600.3 349.3,598.7 320.6,598.7 286.9,598.3 263.1,597.9 234.3,596.7 176.8,596.2 156.9,597.6 148.1,599 142.3,600.4ZM756.4,600.4 1012.4,600.4 990.4,599 981.8,598.8 953,599.3 924.3,598.1 895.5,596.7 840.7,594.9 809.3,593.4 794.8,594.2 788.6,594.9 780.6,596.6 768.3,597.6 763.4,598.3 760.5,599 756.4,600.4Z"/>
<path fill="#a60000" d="M143.4,600.4 429.8,600.4 378.1,599.5 363.4,599 349.3,598.8 320.6,598.8 263.1,598.1 234.3,596.9 176.8,596.3 158.6,597.6 148.1,599.2 143.4,600.4ZM441.3,600.4 487.3,600.4 464.3,599.9 441.3,600.4ZM758.7,600.4 1009.1,600.4 987.5,599 981.8,598.9 953,599.4 946.1,599 924.3,598.2 895.5,596.8 838,594.9 809.3,593.5 797.4,594.2 790.2,594.9 780.6,596.8 771.3,597.6 765.9,598.3 762.8,599 758.7,600.4Z"/>
<path fill="#a10000" d="M144.4,600.4 418.3,600.4 378.1,599.7 357.6,599 320.6,598.9 271.4,598.3 263.1,598.2 234.3,597 176.8,596.5 160.2,597.6 148.1,599.5 144.4,600.4ZM452.8,600.4 475.8,600.4 464.3,600.2 452.8,600.4ZM761,600.4 1006.2,600.4 981.8,598.9 953,599.6 943.8,599 924.3,598.3 895.5,596.9 853.4,595.6 809.3,593.7 800.1,594.2 791.8,594.9 780.6,597.1 768.5,598.3 765.2,599 761,600.4Z"/>
<path fill="#9c0000" d="M145.5,600.4 406.8,600.4 378.1,599.9 351.9,599 320.6,599 263.6,598.3 234.3,597.2 176.8,596.6 161.9,597.6 156.5,598.3 148.1,599.8 145.5,600.4ZM763.3,600.4 1003.3,600.4 981.8,599 953,599.7 941.5,599 924.3,598.4 895.5,597 850.5,595.6 809.3,593.8 793.5,594.9 780.6,597.4 771.1,598.3 767.6,599 763.3,600.4Z"/>
<path fill="#990000" d="M146.5,600.4 395.3,600.4 378.1,600.1 349.3,599.1 320.6,599.1 263.1,598.5 234.3,597.3 176.8,596.7 163.6,597.6 158,598.3 146.5,600.4ZM765.6,600.4 1000.5,600.4 981.8,599.2 953,599.8 939.2,599 924.3,598.5 895.5,597.1 847.6,595.6 809.3,594 795.1,594.9 790.6,595.6 780.6,597.6 773.7,598.3 769.9,599 765.6,600.4Z"/>
<path fill="#8b0000" d="M147.6,600.4 383.8,600.4 349.3,599.3 320.6,599.3 263.1,598.6 234.3,597.5 176.8,596.9 165.3,597.6 159.5,598.3 147.6,600.4ZM767.9,600.4 997.6,600.4 981.8,599.4 953,600 936.9,599 895.5,597.2 844.7,595.6 809.3,594.1 796.8,594.9 791.9,595.6 780.6,597.9 776.2,598.3 772.3,599 767.9,600.4Z"/>
<path fill="#820000" d="M148.9,600.4 375.2,600.4 349.3,599.5 320.6,599.5 263.1,598.8 234.3,597.6 176.8,597 167,597.6 161.1,598.3 148.9,600.4ZM770.2,600.4 994.7,600.4 981.8,599.6 953,600.1 934.6,599 895.5,597.3 841.8,595.6 809.3,594.2 798.4,594.9 793.2,595.6 780.6,598.2 774.6,599 770.2,600.4Z"/>
<path fill="#730000" d="M150.6,600.4 369.5,600.4 349.3,599.7 320.6,599.7 263.1,598.9 229.2,597.6 176.8,597.1 168.7,597.6 162.6,598.3 150.6,600.4ZM772.5,600.4 991.8,600.4 981.8,599.8 953,600.3 932.3,599 895.5,597.3 838.9,595.6 809.3,594.3 800,594.9 794.5,595.6 780.6,598.5 777,599 772.5,600.4Z"/>
<path fill="#650000" d="M152.2,600.4 363.7,600.4 349.3,599.9 320.6,599.9 263.1,599.1 234.3,597.9 223,597.6 176.8,597.2 170.4,597.6 164.1,598.3 152.2,600.4ZM774.8,600.4 989,600.4 981.8,599.9 953,600.4 930,599 895.5,597.4 838,595.6 809.3,594.4 801.7,594.9 795.8,595.6 779.4,599 774.8,600.4Z"/>
<path fill="#5b0000" d="M153.8,600.4 358,600.4 349.3,600.1 320.6,600.1 263.1,599.3 234.3,598.1 216.8,597.6 176.8,597.3 165.6,598.3 153.8,600.4ZM777.1,600.4 950.2,600.4 927.7,599 895.5,597.5 838,595.7 809.3,594.5 803.3,594.9 797.1,595.6 783.9,598.3 777.1,600.4ZM964.5,600.4 986.1,600.4 981.8,600.1 964.5,600.4Z"/>
<path fill="#4d0000" d="M155.5,600.4 352.2,600.4 320.6,600.3 263.1,599.4 234.3,598.2 210.5,597.6 176.8,597.4 167.1,598.3 155.5,600.4ZM779.4,600.4 947.3,600.4 925.4,599 895.5,597.6 838,595.8 809.3,594.6 798.3,595.6 785.3,598.3 782.7,599 780.6,600.1 779.4,600.4ZM976,600.4 983.2,600.4 976,600.4Z"/>
<path fill="#430000" d="M157.1,600.4 314.8,600.4 263.1,599.6 233.7,598.3 205.6,597.7 176.8,597.5 168.7,598.3 157.1,600.4ZM781.2,600.4 944.4,600.4 922.9,599 895.5,597.7 838,595.9 809.3,594.7 799.6,595.6 784.1,599 781.2,600.4Z"/>
<path fill="#350000" d="M158.8,600.4 303.3,600.4 263.1,599.8 228.5,598.3 205.6,597.8 176.8,597.7 170.2,598.3 158.8,600.4ZM782.5,600.4 941.5,600.4 920,599 895.5,597.8 864.7,597 809.3,594.8 800.9,595.6 785.5,599 782.5,600.4Z"/>
<path fill="#2b0000" d="M160.4,600.4 291.8,600.4 263.1,600 234.3,598.7 205.6,597.9 176.8,597.8 171.7,598.3 160.4,600.4ZM783.7,600.4 938.7,600.4 917.1,599 895.5,597.9 861.1,597 809.3,594.9 802.2,595.6 786.9,599 783.7,600.4Z"/>
<path fill="#1d0000" d="M162.1,600.4 280.3,600.4 263.1,600.1 234.3,598.9 205.6,598 176.8,598 173.2,598.3 162.1,600.4ZM785,600.4 935.8,600.4 895.5,598 857.5,597 809.3,595 803.5,595.6 788.3,599 785,600.4Z"/>
<path fill="#0e0000" d="M163.7,600.4 268.8,600.4 246.6,599.7 212.8,598.3 205.6,598.2 176.8,598.1 174.7,598.3 163.7,600.4ZM786.3,600.4 932.9,600.4 895.5,598.1 853.8,597 809.3,595.2 804.8,595.6 792.4,598.3 789.7,599 786.3,600.4Z"/>
<path fill="#050000" d="M165.3,600.4 260.2,600.4 207.6,598.3 176.8,598.3 165.3,600.4ZM787.6,600.4 930,600.4 895.5,598.2 850.2,597 809.3,595.3 806.1,595.6 793.9,598.3 791.1,599 787.6,600.4Z"/>
<path fill="#000000" d="M167,600.4 254.5,600.4 205.6,598.5 176.8,598.5 167,600.4ZM788.9,600.4 927.2,600.4 915.3,599.7 895.5,598.2 846.6,597 826,596.3 809.3,595.4 807.3,595.6 795.3,598.3 792.6,599 788.9,600.4Z"/>
</g>
<line x1="90.6" y1="531.41" x2="1470.5" y2="531.41" stroke="#b0b0b0" stroke-width="1.1"/>
<line x1="90.6" y1="462.42" x2="1470.5" y2="462.42" stroke="#b0b0b0" stroke-width="1.1"/>
<line x1="90.6" y1="393.44" x2="1470.5" y2="393.44" stroke="#b0b0b0" stroke-width="1.1"/>
<line x1="90.6" y1="324.45" x2="1470.5" y2="324.45" stroke="#b0b0b0" stroke-width="1.1"/>
<line x1="90.6" y1="255.46" x2="1470.5" y2="255.46" stroke="#b0b0b0" stroke-width="1.1"/>
<line x1="90.6" y1="186.48" x2="1470.5" y2="186.48" stroke="#b0b0b0" stroke-width="1.1"/>
<line x1="90.6" y1="117.49" x2="1470.5" y2="117.49" stroke="#b0b0b0" stroke-width="1.1"/>
<line x1="435.58" y1="600.4" x2="435.58" y2="48.5" stroke="#b0b0b0" stroke-width="1.1"/>
<line x1="780.55" y1="600.4" x2="780.55" y2="48.5" stroke="#b0b0b0" stroke-width="1.1"/>
<line x1="1125.52" y1="600.4" x2="1125.52" y2="48.5" stroke="#b0b0b0" stroke-width="1.1"/>
<rect x="90.6" y="48.5" width="1379.9" height="551.9" fill="none" stroke="#000" stroke-width="2.78"/>
<line x1="89.3" y1="600.40" x2="85.0" y2="600.40" stroke="#000" stroke-width="1.1"/>
<line x1="89.3" y1="531.41" x2="85.0" y2="531.41" stroke="#000" stroke-width="1.1"/>
<line x1="89.3" y1="462.42" x2="85.0" y2="462.42" stroke="#000" stroke-width="1.1"/>
<line x1="89.3" y1="393.44" x2="85.0" y2="393.44" stroke="#000" stroke-width="1.1"/>
<line x1="89.3" y1="324.45" x2="85.0" y2="324.45" stroke="#000" stroke-width="1.1"/>
<line x1="89.3" y1="255.46" x2="85.0" y2="255.46" stroke="#000" stroke-width="1.1"/>
<line x1="89.3" y1="186.48" x2="85.0" y2="186.48" stroke="#000" stroke-width="1.1"/>
<line x1="89.3" y1="117.49" x2="85.0" y2="117.49" stroke="#000" stroke-width="1.1"/>
<line x1="89.3" y1="48.50" x2="85.0" y2="48.50" stroke="#000" stroke-width="1.1"/>
<line x1="90.60" y1="601.6999999999999" x2="90.60" y2="605.8" stroke="#000" stroke-width="1.1"/>
<line x1="435.58" y1="601.6999999999999" x2="435.58" y2="605.8" stroke="#000" stroke-width="1.1"/>
<line x1="780.55" y1="601.6999999999999" x2="780.55" y2="605.8" stroke="#000" stroke-width="1.1"/>
<line x1="1125.52" y1="601.6999999999999" x2="1125.52" y2="605.8" stroke="#000" stroke-width="1.1"/>
<line x1="1470.50" y1="601.6999999999999" x2="1470.50" y2="605.8" stroke="#000" stroke-width="1.1"/>
<rect x="153.30" y="687.8" width="14.17" height="24.0" fill="#fafdff"/>
<rect x="165.97" y="687.8" width="14.17" height="24.0" fill="#f1faff"/>
<rect x="178.64" y="687.8" width="14.17" height="24.0" fill="#e2f5ff"/>
<rect x="191.32" y="687.8" width="14.17" height="24.0" fill="#d4f1ff"/>
<rect x="203.99" y="687.8" width="14.17" height="24.0" fill="#caedff"/>
<rect x="216.66" y="687.8" width="14.17" height="24.0" fill="#bce9ff"/>
<rect x="229.33" y="687.8" width="14.17" height="24.0" fill="#b2e5ff"/>
<rect x="242.00" y="687.8" width="14.17" height="24.0" fill="#a4e1ff"/>
<rect x="254.67" y="687.8" width="14.17" height="24.0" fill="#9addff"/>
<rect x="267.35" y="687.8" width="14.17" height="24.0" fill="#8cd9ff"/>
<rect x="280.02" y="687.8" width="14.17" height="24.0" fill="#7dd4ff"/>
<rect x="292.69" y="687.8" width="14.17" height="24.0" fill="#74d1ff"/>
<rect x="305.36" y="687.8" width="14.17" height="24.0" fill="#66ccff"/>
<rect x="318.03" y="687.8" width="14.17" height="24.0" fill="#63c5fc"/>
<rect x="330.70" y="687.8" width="14.17" height="24.0" fill="#5ebcf7"/>
<rect x="343.38" y="687.8" width="14.17" height="24.0" fill="#59b2f2"/>
<rect x="356.05" y="687.8" width="14.17" height="24.0" fill="#56acef"/>
<rect x="368.72" y="687.8" width="14.17" height="24.0" fill="#51a2ea"/>
<rect x="381.39" y="687.8" width="14.17" height="24.0" fill="#4e9ce7"/>
<rect x="394.06" y="687.8" width="14.17" height="24.0" fill="#4992e2"/>
<rect x="406.73" y="687.8" width="14.17" height="24.0" fill="#4488dd"/>
<rect x="419.41" y="687.8" width="14.17" height="24.0" fill="#4182da"/>
<rect x="432.08" y="687.8" width="14.17" height="24.0" fill="#3c78d5"/>
<rect x="444.75" y="687.8" width="14.17" height="24.0" fill="#3972d2"/>
<rect x="457.42" y="687.8" width="14.17" height="24.0" fill="#3468cd"/>
<rect x="470.09" y="687.8" width="14.17" height="24.0" fill="#3168c4"/>
<rect x="482.76" y="687.8" width="14.17" height="24.0" fill="#2c6db1"/>
<rect x="495.44" y="687.8" width="14.17" height="24.0" fill="#27729e"/>
<rect x="508.11" y="687.8" width="14.17" height="24.0" fill="#247591"/>
<rect x="520.78" y="687.8" width="14.17" height="24.0" fill="#1f7a7e"/>
<rect x="533.45" y="687.8" width="14.17" height="24.0" fill="#1c7d71"/>
<rect x="546.12" y="687.8" width="14.17" height="24.0" fill="#17825e"/>
<rect x="558.79" y="687.8" width="14.17" height="24.0" fill="#13864a"/>
<rect x="571.47" y="687.8" width="14.17" height="24.0" fill="#0f8a3e"/>
<rect x="584.14" y="687.8" width="14.17" height="24.0" fill="#0b8e2a"/>
<rect x="596.81" y="687.8" width="14.17" height="24.0" fill="#07921e"/>
<rect x="609.48" y="687.8" width="14.17" height="24.0" fill="#03960a"/>
<rect x="622.15" y="687.8" width="14.17" height="24.0" fill="#039a02"/>
<rect x="634.83" y="687.8" width="14.17" height="24.0" fill="#1ba410"/>
<rect x="647.50" y="687.8" width="14.17" height="24.0" fill="#33ad1f"/>
<rect x="660.17" y="687.8" width="14.17" height="24.0" fill="#43b428"/>
<rect x="672.84" y="687.8" width="14.17" height="24.0" fill="#5bbd37"/>
<rect x="685.51" y="687.8" width="14.17" height="24.0" fill="#6bc440"/>
<rect x="698.18" y="687.8" width="14.17" height="24.0" fill="#83cd4f"/>
<rect x="710.86" y="687.8" width="14.17" height="24.0" fill="#9bd75d"/>
<rect x="723.53" y="687.8" width="14.17" height="24.0" fill="#abdd67"/>
<rect x="736.20" y="687.8" width="14.17" height="24.0" fill="#c3e775"/>
<rect x="748.87" y="687.8" width="14.17" height="24.0" fill="#d3ed7f"/>
<rect x="761.54" y="687.8" width="14.17" height="24.0" fill="#ebf78d"/>
<rect x="774.21" y="687.8" width="14.17" height="24.0" fill="#fffd97"/>
<rect x="786.89" y="687.8" width="14.17" height="24.0" fill="#fff78d"/>
<rect x="799.56" y="687.8" width="14.17" height="24.0" fill="#ffed7f"/>
<rect x="812.23" y="687.8" width="14.17" height="24.0" fill="#ffe775"/>
<rect x="824.90" y="687.8" width="14.17" height="24.0" fill="#ffdd67"/>
<rect x="837.57" y="687.8" width="14.17" height="24.0" fill="#ffd75d"/>
<rect x="850.24" y="687.8" width="14.17" height="24.0" fill="#ffcd4f"/>
<rect x="862.92" y="687.8" width="14.17" height="24.0" fill="#ffc440"/>
<rect x="875.59" y="687.8" width="14.17" height="24.0" fill="#ffbd37"/>
<rect x="888.26" y="687.8" width="14.17" height="24.0" fill="#ffb428"/>
<rect x="900.93" y="687.8" width="14.17" height="24.0" fill="#ffad1f"/>
<rect x="913.60" y="687.8" width="14.17" height="24.0" fill="#ffa410"/>
<rect x="926.27" y="687.8" width="14.17" height="24.0" fill="#ff9a02"/>
<rect x="938.95" y="687.8" width="14.17" height="24.0" fill="#fc9100"/>
<rect x="951.62" y="687.8" width="14.17" height="24.0" fill="#f88300"/>
<rect x="964.29" y="687.8" width="14.17" height="24.0" fill="#f47900"/>
<rect x="976.96" y="687.8" width="14.17" height="24.0" fill="#f06b00"/>
<rect x="989.63" y="687.8" width="14.17" height="24.0" fill="#ec6100"/>
<rect x="1002.31" y="687.8" width="14.17" height="24.0" fill="#e85300"/>
<rect x="1014.98" y="687.8" width="14.17" height="24.0" fill="#e34400"/>
<rect x="1027.65" y="687.8" width="14.17" height="24.0" fill="#e03b00"/>
<rect x="1040.32" y="687.8" width="14.17" height="24.0" fill="#db2c00"/>
<rect x="1052.99" y="687.8" width="14.17" height="24.0" fill="#d82300"/>
<rect x="1065.66" y="687.8" width="14.17" height="24.0" fill="#d31400"/>
<rect x="1078.34" y="687.8" width="14.17" height="24.0" fill="#ce0600"/>
<rect x="1091.01" y="687.8" width="14.17" height="24.0" fill="#cb0000"/>
<rect x="1103.68" y="687.8" width="14.17" height="24.0" fill="#c60000"/>
<rect x="1116.35" y="687.8" width="14.17" height="24.0" fill="#c30000"/>
<rect x="1129.02" y="687.8" width="14.17" height="24.0" fill="#be0000"/>
<rect x="1141.69" y="687.8" width="14.17" height="24.0" fill="#bb0000"/>
<rect x="1154.37" y="687.8" width="14.17" height="24.0" fill="#b60000"/>
<rect x="1167.04" y="687.8" width="14.17" height="24.0" fill="#b10000"/>
<rect x="1179.71" y="687.8" width="14.17" height="24.0" fill="#ae0000"/>
<rect x="1192.38" y="687.8" width="14.17" height="24.0" fill="#a90000"/>
<rect x="1205.05" y="687.8" width="14.17" height="24.0" fill="#a60000"/>
<rect x="1217.72" y="687.8" width="14.17" height="24.0" fill="#a10000"/>
<rect x="1230.40" y="687.8" width="14.17" height="24.0" fill="#9c0000"/>
<rect x="1243.07" y="687.8" width="14.17" height="24.0" fill="#990000"/>
<rect x="1255.74" y="687.8" width="14.17" height="24.0" fill="#8b0000"/>
<rect x="1268.41" y="687.8" width="14.17" height="24.0" fill="#820000"/>
<rect x="1281.08" y="687.8" width="14.17" height="24.0" fill="#730000"/>
<rect x="1293.75" y="687.8" width="14.17" height="24.0" fill="#650000"/>
<rect x="1306.43" y="687.8" width="14.17" height="24.0" fill="#5b0000"/>
<rect x="1319.10" y="687.8" width="14.17" height="24.0" fill="#4d0000"/>
<rect x="1331.77" y="687.8" width="14.17" height="24.0" fill="#430000"/>
<rect x="1344.44" y="687.8" width="14.17" height="24.0" fill="#350000"/>
<rect x="1357.11" y="687.8" width="14.17" height="24.0" fill="#2b0000"/>
<rect x="1369.78" y="687.8" width="14.17" height="24.0" fill="#1d0000"/>
<rect x="1382.46" y="687.8" width="14.17" height="24.0" fill="#0e0000"/>
<rect x="1395.13" y="687.8" width="12.67" height="24.0" fill="#050000"/>
<path d="M153.3,687.8 L90.6,699.8 L153.3,711.8 Z" fill="#ffffff"/>
<path d="M1406.3,687.8 L1407.8,687.8 L1470.5,699.8 L1407.8,711.8 L1406.3,711.8 Z" fill="#000000"/>
<path d="M153.3,687.8 L1407.8,687.8 L1470.5,699.8 L1407.8,711.8 L153.3,711.8 L90.6,699.8 Z" fill="none" stroke="#000" stroke-width="2.78" stroke-linejoin="miter"/>
<line x1="153.30" y1="713.0" x2="153.30" y2="717.8" stroke="#000" stroke-width="1.1"/>
<line x1="404.20" y1="713.0" x2="404.20" y2="717.8" stroke="#000" stroke-width="1.1"/>
<line x1="655.10" y1="713.0" x2="655.10" y2="717.8" stroke="#000" stroke-width="1.1"/>
<line x1="906.00" y1="713.0" x2="906.00" y2="717.8" stroke="#000" stroke-width="1.1"/>
<line x1="1156.90" y1="713.0" x2="1156.90" y2="717.8" stroke="#000" stroke-width="1.1"/>
<line x1="1407.80" y1="713.0" x2="1407.80" y2="717.8" stroke="#000" stroke-width="1.1"/>
</svg>
<div class="t" id="title" style="left:282px;top:10.3px;font-size:36.3px;letter-spacing:-0.05px;">WRF-Chem PM 10&nbsp; 20230921 00UTC 48h fcst at Joshua Tree</div>
<div class="t" id="xlabel" style="left:633.9px;top:639.8px;font-size:29.6px;letter-spacing:0.59px;">Forecast Time (Hour)</div>
<div class="t" id="cblabel" style="left:673.1px;top:751.5px;font-size:29.6px;letter-spacing:0.73px;">PM 10&nbsp; (ug/m3)</div>
<div class="t" id="ylabel" style="left:42px;top:324px;font-size:29.6px;letter-spacing:0.65px;transform:translate(-50%,-50%) rotate(-90deg);">Alt AGL (km)</div>
<div class="t yt" style="right:1419.6px;top:585.0px;font-size:29.6px;">0</div>
<div class="t yt" style="right:1419.6px;top:516.0px;font-size:29.6px;">1</div>
<div class="t yt" style="right:1419.6px;top:447.1px;font-size:29.6px;">2</div>
<div class="t yt" style="right:1419.6px;top:378.1px;font-size:29.6px;">3</div>
<div class="t yt" style="right:1419.6px;top:309.1px;font-size:29.6px;">4</div>
<div class="t yt" style="right:1419.6px;top:240.1px;font-size:29.6px;">5</div>
<div class="t yt" style="right:1419.6px;top:171.1px;font-size:29.6px;">6</div>
<div class="t yt" style="right:1419.6px;top:102.1px;font-size:29.6px;">7</div>
<div class="t yt" style="right:1419.6px;top:33.1px;font-size:29.6px;">8</div>
<div class="t xt" style="left:91.0px;top:605.9px;font-size:29.6px;transform:translateX(-50%);">0</div>
<div class="t xt" style="left:434.7px;top:605.9px;font-size:29.6px;transform:translateX(-50%);">12</div>
<div class="t xt" style="left:779.3px;top:605.9px;font-size:29.6px;transform:translateX(-50%);">24</div>
<div class="t xt" style="left:1124.1px;top:605.9px;font-size:29.6px;transform:translateX(-50%);">36</div>
<div class="t xt" style="left:1469.6px;top:605.9px;font-size:29.6px;transform:translateX(-50%);">48</div>
<div class="t ct" style="left:154.1px;top:717.9px;font-size:29.6px;transform:translateX(-50%);">0</div>
<div class="t ct" style="left:403.5px;top:717.9px;font-size:29.6px;transform:translateX(-50%);">4</div>
<div class="t ct" style="left:655.6px;top:717.9px;font-size:29.6px;transform:translateX(-50%);">8</div>
<div class="t ct" style="left:905.3px;top:717.9px;font-size:29.6px;transform:translateX(-50%);">12</div>
<div class="t ct" style="left:1156.5px;top:717.9px;font-size:29.6px;transform:translateX(-50%);">16</div>
<div class="t ct" style="left:1407.7px;top:717.9px;font-size:29.6px;transform:translateX(-50%);">20</div>

</body></html>
